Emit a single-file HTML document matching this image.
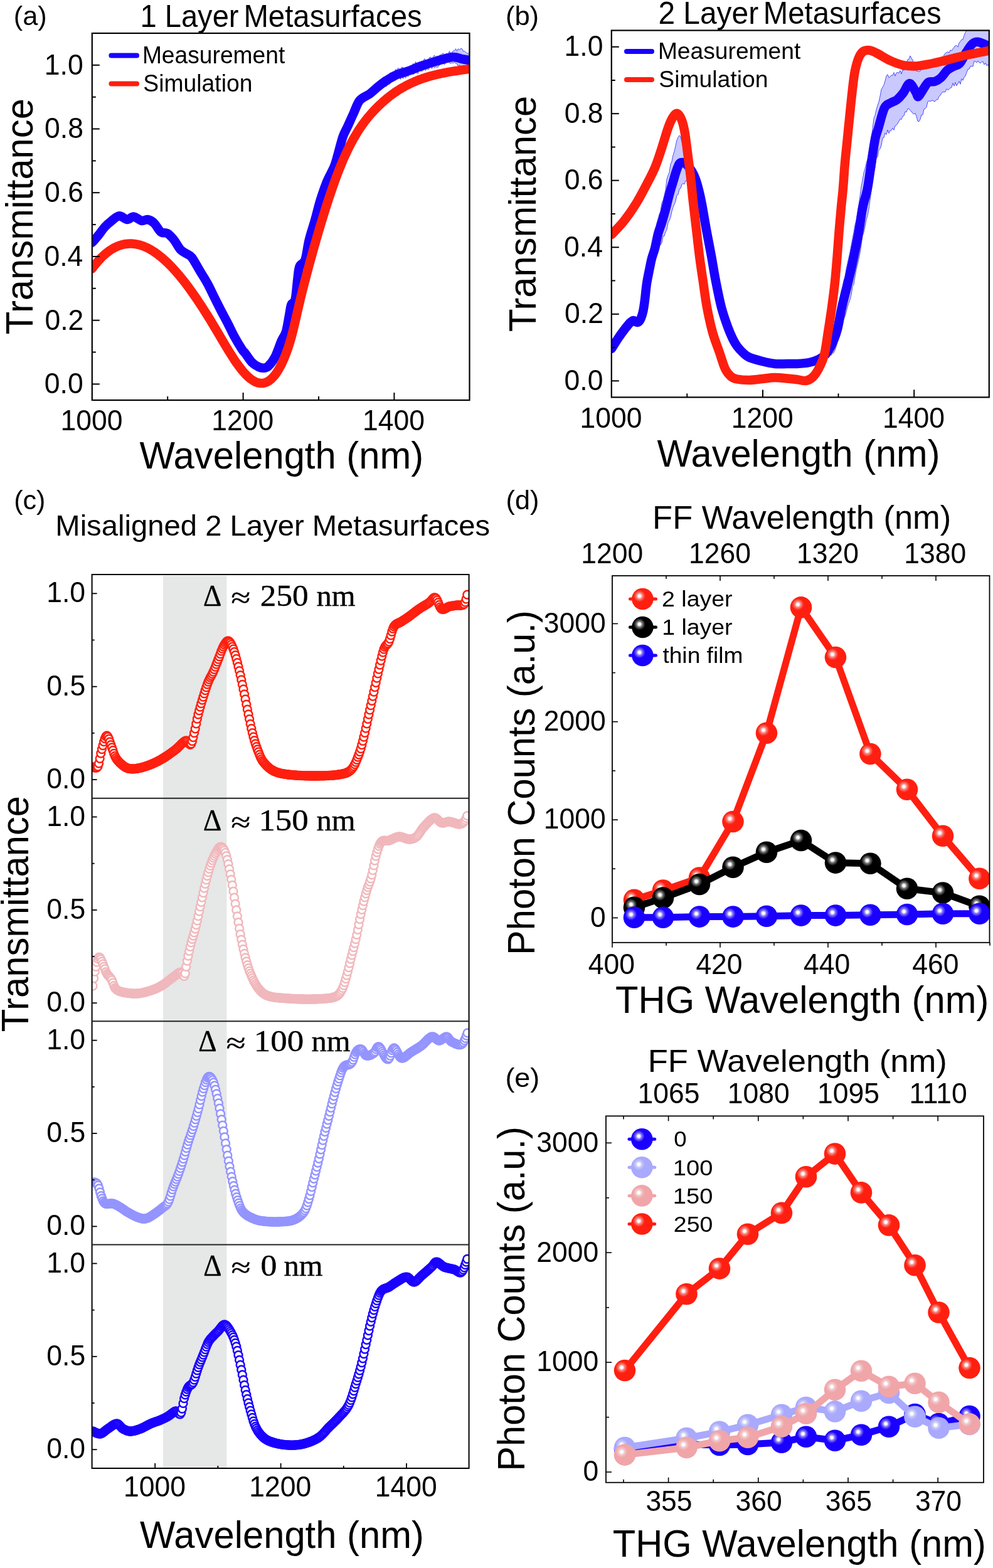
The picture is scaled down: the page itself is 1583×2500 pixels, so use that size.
<!DOCTYPE html><html><head><meta charset="utf-8"><title>Metasurface transmittance and THG</title><style>html,body{margin:0;padding:0;background:#fff}svg{display:block}</style></head><body><svg xmlns="http://www.w3.org/2000/svg" width="1583" height="2500" viewBox="0 0 1583 2500" font-family='"Liberation Sans", Arial, sans-serif'><rect width="1583" height="2500" fill="#fff"/><defs><radialGradient id="gR" cx="0.356" cy="0.362" r="0.27" fx="0.356" fy="0.362"><stop offset="0" stop-color="#fff"/><stop offset="0.2" stop-color="#fff"/><stop offset="0.5" stop-color="#f78780"/><stop offset="1" stop-color="#ff1f10"/></radialGradient><radialGradient id="gK" cx="0.356" cy="0.362" r="0.27" fx="0.356" fy="0.362"><stop offset="0" stop-color="#fff"/><stop offset="0.2" stop-color="#fff"/><stop offset="0.5" stop-color="#787878"/><stop offset="1" stop-color="#000000"/></radialGradient><radialGradient id="gB" cx="0.356" cy="0.362" r="0.27" fx="0.356" fy="0.362"><stop offset="0" stop-color="#fff"/><stop offset="0.2" stop-color="#fff"/><stop offset="0.5" stop-color="#8578f7"/><stop offset="1" stop-color="#1a00ff"/></radialGradient><radialGradient id="gL" cx="0.356" cy="0.362" r="0.27" fx="0.356" fy="0.362"><stop offset="0" stop-color="#fff"/><stop offset="0.2" stop-color="#fff"/><stop offset="0.5" stop-color="#ccccf6"/><stop offset="1" stop-color="#a9a9fd"/></radialGradient><radialGradient id="gP" cx="0.356" cy="0.362" r="0.27" fx="0.356" fy="0.362"><stop offset="0" stop-color="#fff"/><stop offset="0.2" stop-color="#fff"/><stop offset="0.5" stop-color="#f0cacc"/><stop offset="1" stop-color="#f0a5a9"/></radialGradient></defs>
<clipPath id="ca"><rect x="146.8" y="53.0" width="601.7" height="585.0"/></clipPath>
<g clip-path="url(#ca)">
<path d="M146.5,384.0 L148.5,381.8 L150.5,379.5 L152.5,377.3 L154.5,375.0 L156.5,372.6 L158.5,370.0 L160.5,367.3 L162.5,364.6 L164.5,362.0 L166.5,359.6 L168.5,357.4 L170.5,355.4 L172.5,353.6 L174.5,351.9 L176.5,350.3 L178.5,348.7 L180.5,347.0 L182.5,345.3 L184.5,343.8 L186.5,342.5 L188.5,341.6 L190.5,341.3 L192.5,341.7 L194.5,342.7 L196.5,343.9 L198.5,345.3 L200.5,346.4 L202.5,347.0 L204.5,346.7 L206.5,345.6 L208.5,344.2 L210.5,342.9 L212.5,342.4 L214.5,342.8 L216.5,343.7 L218.5,344.9 L220.5,346.3 L222.5,347.6 L224.5,348.6 L226.5,349.1 L228.5,348.9 L230.5,348.1 L232.5,347.3 L234.5,346.9 L236.5,347.3 L238.5,348.0 L240.5,348.9 L242.5,350.1 L244.5,351.6 L246.5,353.5 L248.5,356.2 L250.5,359.3 L252.5,362.4 L254.5,365.1 L256.5,367.0 L258.5,367.9 L260.5,368.2 L262.5,368.1 L264.5,368.2 L266.5,368.9 L268.5,370.2 L270.5,371.9 L272.5,373.8 L274.5,376.0 L276.5,378.4 L278.5,381.0 L280.5,384.2 L282.5,387.5 L284.5,390.7 L286.5,393.6 L288.5,395.8 L290.5,397.5 L292.5,398.8 L294.5,399.9 L296.5,401.0 L298.5,402.2 L300.5,403.3 L302.5,404.2 L304.5,405.9 L306.5,408.5 L308.5,411.5 L310.5,414.8 L312.5,418.3 L314.5,421.8 L316.5,425.3 L318.5,428.7 L320.5,432.0 L322.5,435.2 L324.5,438.5 L326.5,441.7 L328.5,445.1 L330.5,448.6 L332.5,452.3 L334.5,456.2 L336.5,460.4 L338.5,464.5 L340.5,468.7 L342.5,472.7 L344.5,476.7 L346.5,480.7 L348.5,484.7 L350.5,488.7 L352.5,492.6 L354.5,496.4 L356.5,500.1 L358.5,503.9 L360.5,507.6 L362.5,511.4 L364.5,515.4 L366.5,519.5 L368.5,523.6 L370.5,527.7 L372.5,531.5 L374.5,535.2 L376.5,538.7 L378.5,542.2 L380.5,545.5 L382.5,548.8 L384.5,552.0 L386.5,555.2 L388.5,557.7 L390.5,559.8 L392.5,562.5 L394.5,565.4 L396.5,568.3 L398.5,571.0 L400.5,573.5 L402.5,575.6 L404.5,577.3 L406.5,578.8 L408.5,580.0 L410.5,581.1 L412.5,582.1 L414.5,582.9 L416.5,583.5 L418.5,583.7 L420.5,583.7 L422.5,583.6 L424.5,583.1 L426.5,581.9 L428.5,580.1 L430.5,578.0 L432.5,575.6 L434.5,572.9 L436.5,569.7 L438.5,566.1 L440.5,561.7 L442.5,556.7 L444.5,551.3 L446.5,546.0 L448.5,541.0 L450.5,536.8 L452.5,533.5 L454.5,529.9 L456.5,524.0 L458.5,514.5 L460.5,502.9 L462.5,491.3 L464.5,482.5 L466.5,480.1 L468.5,478.7 L470.5,474.8 L472.5,460.8 L474.5,441.3 L476.5,425.4 L478.5,420.1 L480.5,418.2 L482.5,416.8 L484.5,414.9 L486.5,411.1 L488.5,402.9 L490.5,391.1 L492.5,380.8 L494.5,373.3 L496.5,366.6 L498.5,360.1 L500.5,353.6 L502.5,346.7 L504.5,339.2 L506.5,331.4 L508.5,323.9 L510.5,317.0 L512.5,310.6 L514.5,304.5 L516.5,298.7 L518.5,293.3 L520.5,288.2 L522.5,283.6 L524.5,279.5 L526.5,275.6 L528.5,271.6 L530.5,267.6 L532.5,263.2 L534.5,258.0 L536.5,251.4 L538.5,243.9 L540.5,236.6 L542.5,228.9 L544.5,221.4 L546.5,214.6 L548.5,209.3 L550.5,204.9 L552.5,200.9 L554.5,196.5 L556.5,191.8 L558.5,187.2 L560.5,182.6 L562.5,178.1 L564.5,173.6 L566.5,168.6 L568.5,163.6 L570.5,159.3 L572.5,156.0 L574.5,153.5 L576.5,151.7 L578.5,150.3 L580.5,149.1 L582.5,147.9 L584.5,146.8 L586.5,145.7 L588.5,144.5 L590.5,143.1 L592.5,141.4 L594.5,139.7 L596.5,137.8 L598.5,135.9 L600.5,131.4 L602.5,132.0 L604.5,129.9 L606.5,129.7 L608.5,125.3 L610.5,124.3 L612.5,126.3 L614.5,121.6 L616.5,121.1 L618.5,123.0 L620.5,117.7 L622.5,115.6 L624.5,117.8 L626.5,115.8 L628.5,115.0 L630.5,110.6 L632.5,111.9 L634.5,108.6 L636.5,109.4 L638.5,111.4 L640.5,106.9 L642.5,107.7 L644.5,111.2 L646.5,110.5 L648.5,106.9 L650.5,107.7 L652.5,106.4 L654.5,104.7 L656.5,106.2 L658.5,101.2 L660.5,104.2 L662.5,98.6 L664.5,102.7 L666.5,100.7 L668.5,98.6 L670.5,99.2 L672.5,97.2 L674.5,98.4 L676.5,93.7 L678.5,95.4 L680.5,96.9 L682.5,96.5 L684.5,91.6 L686.5,91.1 L688.5,94.4 L690.5,90.4 L692.5,88.0 L694.5,91.3 L696.5,88.9 L698.5,90.2 L700.5,88.0 L702.5,87.4 L704.5,86.2 L706.5,84.8 L708.5,87.7 L710.5,85.7 L712.5,85.8 L714.5,85.8 L716.5,81.4 L718.5,84.9 L720.5,84.1 L722.5,81.1 L724.5,80.9 L726.5,77.7 L728.5,81.3 L730.5,77.7 L732.5,79.8 L734.5,77.4 L736.5,77.7 L738.5,81.6 L740.5,81.5 L742.5,83.3 L744.5,84.6 L746.5,86.4 L748.5,81.6 L748.5,106.7 L746.5,106.6 L744.5,106.4 L742.5,106.4 L740.5,105.2 L738.5,107.9 L736.5,109.0 L734.5,108.0 L732.5,103.1 L730.5,106.1 L728.5,101.7 L726.5,101.4 L724.5,99.0 L722.5,100.8 L720.5,99.9 L718.5,101.4 L716.5,100.0 L714.5,99.4 L712.5,99.4 L710.5,99.2 L708.5,103.1 L706.5,99.7 L704.5,101.8 L702.5,101.5 L700.5,103.6 L698.5,106.5 L696.5,107.5 L694.5,106.4 L692.5,108.2 L690.5,104.4 L688.5,109.5 L686.5,105.9 L684.5,108.5 L682.5,111.3 L680.5,108.3 L678.5,112.7 L676.5,109.7 L674.5,112.5 L672.5,113.4 L670.5,113.4 L668.5,111.2 L666.5,117.2 L664.5,116.3 L662.5,115.6 L660.5,117.6 L658.5,118.7 L656.5,116.8 L654.5,118.7 L652.5,116.8 L650.5,122.2 L648.5,120.2 L646.5,124.4 L644.5,119.8 L642.5,125.5 L640.5,121.5 L638.5,126.5 L636.5,122.2 L634.5,124.9 L632.5,126.8 L630.5,127.8 L628.5,128.8 L626.5,128.1 L624.5,128.2 L622.5,132.2 L620.5,134.8 L618.5,134.6 L616.5,137.2 L614.5,138.1 L612.5,136.3 L610.5,137.0 L608.5,138.6 L606.5,141.2 L604.5,145.0 L602.5,144.4 L600.5,143.2 L598.5,147.9 L596.5,149.6 L594.5,151.4 L592.5,153.0 L590.5,154.6 L588.5,155.9 L586.5,157.1 L584.5,158.1 L582.5,159.1 L580.5,160.1 L578.5,161.2 L576.5,162.6 L574.5,164.3 L572.5,166.6 L570.5,169.9 L568.5,174.0 L566.5,178.9 L564.5,183.8 L562.5,188.2 L560.5,192.6 L558.5,196.9 L556.5,201.1 L554.5,205.4 L552.5,209.4 L550.5,213.0 L548.5,217.0 L546.5,221.9 L544.5,228.3 L542.5,235.4 L540.5,242.7 L538.5,249.9 L536.5,257.4 L534.5,264.0 L532.5,269.2 L530.5,273.6 L528.5,277.6 L526.5,281.6 L524.5,285.5 L522.5,289.6 L520.5,294.2 L518.5,299.3 L516.5,304.7 L514.5,310.5 L512.5,316.6 L510.5,323.0 L508.5,329.9 L506.5,337.4 L504.5,345.2 L502.5,352.7 L500.5,359.6 L498.5,366.1 L496.5,372.6 L494.5,379.3 L492.5,386.8 L490.5,397.1 L488.5,408.9 L486.5,417.1 L484.5,420.9 L482.5,422.8 L480.5,424.2 L478.5,426.1 L476.5,431.4 L474.5,447.3 L472.5,466.8 L470.5,480.8 L468.5,484.7 L466.5,486.1 L464.5,488.5 L462.5,497.3 L460.5,508.9 L458.5,520.5 L456.5,530.0 L454.5,535.9 L452.5,539.5 L450.5,542.8 L448.5,547.0 L446.5,552.0 L444.5,557.3 L442.5,562.7 L440.5,567.7 L438.5,572.1 L436.5,575.7 L434.5,578.9 L432.5,581.6 L430.5,584.0 L428.5,586.1 L426.5,587.9 L424.5,589.1 L422.5,589.6 L420.5,589.7 L418.5,589.7 L416.5,589.5 L414.5,588.9 L412.5,588.1 L410.5,587.1 L408.5,586.0 L406.5,584.8 L404.5,583.3 L402.5,581.6 L400.5,579.5 L398.5,577.0 L396.5,574.3 L394.5,571.4 L392.5,568.5 L390.5,565.8 L388.5,563.7 L386.5,561.2 L384.5,558.0 L382.5,554.8 L380.5,551.5 L378.5,548.2 L376.5,544.7 L374.5,541.2 L372.5,537.5 L370.5,533.7 L368.5,529.6 L366.5,525.5 L364.5,521.4 L362.5,517.4 L360.5,513.6 L358.5,509.9 L356.5,506.1 L354.5,502.4 L352.5,498.6 L350.5,494.7 L348.5,490.7 L346.5,486.7 L344.5,482.7 L342.5,478.7 L340.5,474.7 L338.5,470.5 L336.5,466.4 L334.5,462.2 L332.5,458.3 L330.5,454.6 L328.5,451.1 L326.5,447.7 L324.5,444.5 L322.5,441.2 L320.5,438.0 L318.5,434.7 L316.5,431.3 L314.5,427.8 L312.5,424.3 L310.5,420.8 L308.5,417.5 L306.5,414.5 L304.5,411.9 L302.5,410.2 L300.5,409.3 L298.5,408.2 L296.5,407.0 L294.5,405.9 L292.5,404.8 L290.5,403.5 L288.5,401.8 L286.5,399.6 L284.5,396.7 L282.5,393.5 L280.5,390.2 L278.5,387.0 L276.5,384.4 L274.5,382.0 L272.5,379.8 L270.5,377.9 L268.5,376.2 L266.5,374.9 L264.5,374.2 L262.5,374.1 L260.5,374.2 L258.5,373.9 L256.5,373.0 L254.5,371.1 L252.5,368.4 L250.5,365.3 L248.5,362.2 L246.5,359.5 L244.5,357.6 L242.5,356.1 L240.5,354.9 L238.5,354.0 L236.5,353.3 L234.5,352.9 L232.5,353.3 L230.5,354.1 L228.5,354.9 L226.5,355.1 L224.5,354.6 L222.5,353.6 L220.5,352.3 L218.5,350.9 L216.5,349.7 L214.5,348.8 L212.5,348.4 L210.5,348.9 L208.5,350.2 L206.5,351.6 L204.5,352.7 L202.5,353.0 L200.5,352.4 L198.5,351.3 L196.5,349.9 L194.5,348.7 L192.5,347.7 L190.5,347.3 L188.5,347.6 L186.5,348.5 L184.5,349.8 L182.5,351.3 L180.5,353.0 L178.5,354.7 L176.5,356.3 L174.5,357.9 L172.5,359.6 L170.5,361.4 L168.5,363.4 L166.5,365.6 L164.5,368.0 L162.5,370.6 L160.5,373.3 L158.5,376.0 L156.5,378.6 L154.5,381.0 L152.5,383.3 L150.5,385.5 L148.5,387.8 L146.5,390.0Z" fill="#c9c9ff" stroke="#4a4aff" stroke-width="1"/>
<path d="M146.5,387C148.2,385.1 153.1,379.8 156.5,375.6C159.9,371.4 163.5,365.9 167,362C170.5,358.1 173.7,355.4 177.5,352.5C181.3,349.6 185.8,344.7 190,344.3C194.2,343.9 198.9,349.8 202.7,350C206.5,350.2 209.2,345.1 213,345.4C216.8,345.7 222,351.2 225.7,352C229.4,352.8 231.9,349.4 235.2,350C238.5,350.6 242.2,352.4 245.7,355.7C249.2,359 252.7,367.1 256.2,369.8C259.7,372.5 263.2,370 266.7,372C270.2,374 273.5,377.7 277,382C280.5,386.3 284.2,394.2 287.7,398C291.2,401.8 295.2,402.9 298.2,405C301.2,407.1 302.4,406.1 305.8,410.5C309.2,414.9 314.2,424.5 318.4,431.5C322.6,438.5 327.2,445.5 331,452.5C334.8,459.5 337.9,466.5 341.4,473.5C344.9,480.5 348.3,487.4 351.9,494.4C355.5,501.4 359.4,508.4 363,515.4C366.6,522.4 369.7,529.4 373.5,536.4C377.3,543.4 383.1,552.9 386,557.4C388.9,561.9 388.4,560 391,563.4C393.6,566.8 398,574 401.5,577.6C405,581.2 408.9,583.4 412,584.9C415.1,586.4 417.8,586.9 420.4,586.7C423,586.5 424.7,586.7 427.7,583.9C430.7,581.1 434.7,576.4 438.2,569.7C441.7,563 445.7,550.3 448.7,543.5C451.7,536.7 453.9,535.8 456,528.8C458.1,521.8 459.9,508.7 461.3,501.5C462.7,494.3 462.8,489.7 464.4,485.7C465.9,481.7 469,484 470.6,477.4C472.2,470.8 473.2,454.6 474.3,445.9C475.4,437.2 475.5,430.2 477.5,425C479.5,419.8 483.9,421.4 486.4,414.4C488.9,407.4 490.1,393.5 492.7,383C495.3,372.5 499,362 502,351.5C505,341 507.4,330.1 510.5,320C513.6,309.9 516.8,300.4 520.5,291.2C524.2,282 529.9,272.9 533,265C536.1,257.1 537,251.9 539.3,244C541.6,236.1 544.2,224.7 546.7,217.7C549.2,210.7 551.2,208.1 554,202C556.8,195.9 560.2,188 563.5,181C566.8,174 569.1,165.3 573.5,160C577.9,154.7 585.1,152.9 590,149.2C594.9,145.5 598.6,141.5 603,138C607.4,134.5 611.4,131.3 616.2,128.2C621,125.1 625.9,121.9 632,119.3C638.1,116.7 646.9,114.7 653,112.5C659.1,110.3 661.7,108.7 668.7,106.2C675.7,103.8 686.2,100.3 695,97.8C703.8,95.3 714.2,91.6 721.2,91C728.2,90.4 732.4,93.2 737,94.1C741.6,95 747,95.8 749,96.2" fill="none" stroke="#1a00ff" stroke-width="14.5" stroke-linejoin="round" stroke-linecap="round"/>
<path d="M146.5,428.6 L149.5,424.6 L152.5,420.9 L155.5,417.3 L158.5,414.0 L161.5,410.8 L164.5,407.9 L167.5,405.3 L170.5,402.8 L173.5,400.5 L176.5,398.4 L179.5,396.6 L182.5,394.9 L185.5,393.5 L188.5,392.2 L191.5,391.1 L194.5,390.2 L197.5,389.5 L200.5,389.0 L203.5,388.7 L206.5,388.5 L209.5,388.5 L212.5,388.7 L215.5,389.1 L218.5,389.6 L221.5,390.3 L224.5,391.1 L227.5,392.1 L230.5,393.3 L233.5,394.6 L236.5,396.1 L239.5,397.7 L242.5,399.5 L245.5,401.4 L248.5,403.4 L251.5,405.6 L254.5,407.9 L257.5,410.3 L260.5,412.9 L263.5,415.6 L266.5,418.4 L269.5,421.4 L272.5,424.4 L275.5,427.6 L278.5,430.9 L281.5,434.3 L284.5,437.7 L287.5,441.3 L290.5,445.0 L293.5,448.8 L296.5,452.7 L299.5,456.7 L302.5,460.8 L305.5,465.0 L308.5,469.2 L311.5,473.5 L314.5,477.9 L317.5,482.4 L320.5,487.0 L323.5,491.6 L326.5,496.3 L329.5,501.0 L332.5,505.9 L335.5,510.7 L338.5,515.7 L341.5,520.7 L344.5,525.7 L347.5,530.8 L350.5,535.9 L353.5,541.0 L356.5,546.0 L359.5,551.1 L362.5,556.1 L365.5,561.0 L368.5,565.7 L371.5,570.4 L374.5,574.9 L377.5,579.3 L380.5,583.4 L383.5,587.4 L386.5,591.1 L389.5,594.6 L392.5,597.8 L395.5,600.7 L398.5,603.3 L401.5,605.5 L404.5,607.4 L407.5,609.0 L410.5,610.1 L413.5,610.8 L416.5,611.1 L419.5,610.9 L422.5,610.2 L425.5,609.0 L428.5,607.4 L431.5,605.1 L434.5,602.3 L437.5,598.9 L440.5,594.9 L443.5,590.3 L446.5,585.0 L449.5,579.1 L452.5,572.5 L455.5,565.1 L458.5,557.0 L461.5,547.8 L464.5,537.4 L467.5,525.7 L470.5,513.1 L473.5,500.0 L476.5,486.9 L479.5,474.2 L482.5,462.1 L485.5,450.3 L488.5,438.8 L491.5,427.5 L494.5,416.4 L497.5,405.5 L500.5,394.8 L503.5,384.2 L506.5,373.8 L509.5,363.6 L512.5,353.6 L515.5,343.8 L518.5,334.2 L521.5,324.7 L524.5,315.5 L527.5,306.6 L530.5,297.9 L533.5,289.4 L536.5,281.2 L539.5,273.3 L542.5,265.8 L545.5,258.5 L548.5,251.5 L551.5,244.9 L554.5,238.6 L557.5,232.5 L560.5,226.8 L563.5,221.3 L566.5,216.2 L569.5,211.2 L572.5,206.5 L575.5,202.0 L578.5,197.8 L581.5,193.7 L584.5,189.8 L587.5,186.1 L590.5,182.6 L593.5,179.2 L596.5,176.0 L599.5,172.9 L602.5,169.9 L605.5,167.0 L608.5,164.2 L611.5,161.5 L614.5,158.9 L617.5,156.4 L620.5,154.1 L623.5,151.8 L626.5,149.6 L629.5,147.4 L632.5,145.4 L635.5,143.5 L638.5,141.6 L641.5,139.9 L644.5,138.2 L647.5,136.5 L650.5,135.0 L653.5,133.5 L656.5,132.1 L659.5,130.8 L662.5,129.5 L665.5,128.3 L668.5,127.1 L671.5,126.0 L674.5,124.9 L677.5,124.0 L680.5,123.0 L683.5,122.1 L686.5,121.3 L689.5,120.5 L692.5,119.7 L695.5,119.0 L698.5,118.3 L701.5,117.6 L704.5,117.0 L707.5,116.4 L710.5,115.8 L713.5,115.2 L716.5,114.7 L719.5,114.2 L722.5,113.7 L725.5,113.2 L728.5,112.8 L731.5,112.3 L734.5,111.9 L737.5,111.4 L740.5,111.0 L743.5,110.6 L746.5,110.1 L749.0,109.7" fill="none" stroke="#ff1f0f" stroke-width="14.5" stroke-linejoin="round" stroke-linecap="round"/>
</g>
<rect x="146.8" y="53" width="601.7" height="585" fill="none" stroke="#000" stroke-width="2.2"/>
<line x1="146.8" y1="612.4" x2="158.8" y2="612.4" stroke="#000" stroke-width="2"/>
<line x1="146.8" y1="561.5" x2="152.8" y2="561.5" stroke="#000" stroke-width="2"/>
<line x1="146.8" y1="510.7" x2="158.8" y2="510.7" stroke="#000" stroke-width="2"/>
<line x1="146.8" y1="459.8" x2="152.8" y2="459.8" stroke="#000" stroke-width="2"/>
<line x1="146.8" y1="409" x2="158.8" y2="409" stroke="#000" stroke-width="2"/>
<line x1="146.8" y1="358.1" x2="152.8" y2="358.1" stroke="#000" stroke-width="2"/>
<line x1="146.8" y1="307.2" x2="158.8" y2="307.2" stroke="#000" stroke-width="2"/>
<line x1="146.8" y1="256.4" x2="152.8" y2="256.4" stroke="#000" stroke-width="2"/>
<line x1="146.8" y1="205.5" x2="158.8" y2="205.5" stroke="#000" stroke-width="2"/>
<line x1="146.8" y1="154.7" x2="152.8" y2="154.7" stroke="#000" stroke-width="2"/>
<line x1="146.8" y1="103.8" x2="158.8" y2="103.8" stroke="#000" stroke-width="2"/>
<line x1="267.2" y1="638" x2="267.2" y2="632" stroke="#000" stroke-width="2"/>
<line x1="387.6" y1="638" x2="387.6" y2="626" stroke="#000" stroke-width="2"/>
<line x1="508" y1="638" x2="508" y2="632" stroke="#000" stroke-width="2"/>
<line x1="628.4" y1="638" x2="628.4" y2="626" stroke="#000" stroke-width="2"/>
<text x="70.8" y="627.2" font-size="45.5" textLength="61.9" lengthAdjust="spacingAndGlyphs" font-family='"Liberation Sans", Arial, sans-serif' fill="#000">0.0</text>
<text x="71.4" y="525.5" font-size="45.5" textLength="61.9" lengthAdjust="spacingAndGlyphs" font-family='"Liberation Sans", Arial, sans-serif' fill="#000">0.2</text>
<text x="70.4" y="423.8" font-size="45.5" textLength="61.9" lengthAdjust="spacingAndGlyphs" font-family='"Liberation Sans", Arial, sans-serif' fill="#000">0.4</text>
<text x="71.0" y="322.0" font-size="45.5" textLength="61.9" lengthAdjust="spacingAndGlyphs" font-family='"Liberation Sans", Arial, sans-serif' fill="#000">0.6</text>
<text x="71.0" y="220.3" font-size="45.5" textLength="61.9" lengthAdjust="spacingAndGlyphs" font-family='"Liberation Sans", Arial, sans-serif' fill="#000">0.8</text>
<text x="70.8" y="118.6" font-size="45.5" textLength="61.9" lengthAdjust="spacingAndGlyphs" font-family='"Liberation Sans", Arial, sans-serif' fill="#000">1.0</text>
<text x="96.5" y="686.2" font-size="45.5" textLength="99.0" lengthAdjust="spacingAndGlyphs" font-family='"Liberation Sans", Arial, sans-serif' fill="#000">1000</text>
<text x="337.3" y="686.2" font-size="45.5" textLength="99.0" lengthAdjust="spacingAndGlyphs" font-family='"Liberation Sans", Arial, sans-serif' fill="#000">1200</text>
<text x="578.1" y="686.2" font-size="45.5" textLength="99.0" lengthAdjust="spacingAndGlyphs" font-family='"Liberation Sans", Arial, sans-serif' fill="#000">1400</text>
<text x="222.4" y="747.2" font-size="61.5" textLength="452.7" lengthAdjust="spacingAndGlyphs" font-family='"Liberation Sans", Arial, sans-serif' fill="#000">Wavelength (nm)</text>
<text transform="translate(51.5,533.3) rotate(-90)" x="0" y="0" font-size="62.0" textLength="376.2" lengthAdjust="spacingAndGlyphs" font-family='"Liberation Sans", Arial, sans-serif'>Transmittance</text>
<text x="21.7" y="40.0" font-size="42.5" textLength="53.0" lengthAdjust="spacingAndGlyphs" font-family='"Liberation Sans", Arial, sans-serif' fill="#000">(a)</text>
<text x="223.5" y="42.5" font-size="49.2" textLength="157.0" lengthAdjust="spacingAndGlyphs" font-family='"Liberation Sans", Arial, sans-serif' fill="#000">1 Layer</text>
<text x="388.4" y="42.5" font-size="49.2" textLength="284.3" lengthAdjust="spacingAndGlyphs" font-family='"Liberation Sans", Arial, sans-serif' fill="#000">Metasurfaces</text>
<line x1="177.4" y1="88.4" x2="218" y2="88.4" stroke="#1a00ff" stroke-width="8" stroke-linecap="round"/>
<line x1="177.4" y1="133.6" x2="218" y2="133.6" stroke="#ff1f0f" stroke-width="8" stroke-linecap="round"/>
<text x="226.9" y="100.8" font-size="38.0" textLength="227.4" lengthAdjust="spacingAndGlyphs" font-family='"Liberation Sans", Arial, sans-serif' fill="#000">Measurement</text>
<text x="228.3" y="146.0" font-size="38.0" textLength="174.1" lengthAdjust="spacingAndGlyphs" font-family='"Liberation Sans", Arial, sans-serif' fill="#000">Simulation</text>
<clipPath id="cb"><rect x="974.75" y="48.5" width="602.05" height="584.9"/></clipPath>
<g clip-path="url(#cb)">
<path d="M975.0,553.0 L977.0,549.7 L979.0,546.5 L981.0,543.3 L983.0,540.1 L985.0,537.0 L987.0,534.0 L989.0,531.2 L991.0,528.4 L993.0,525.6 L995.0,523.0 L997.0,520.4 L999.0,517.9 L1001.0,515.5 L1003.0,513.2 L1005.0,511.0 L1007.0,509.1 L1009.0,508.1 L1011.0,508.3 L1013.0,509.9 L1015.0,511.0 L1017.0,510.8 L1019.0,509.4 L1021.0,506.1 L1023.0,500.9 L1025.0,494.0 L1027.0,482.6 L1029.0,465.1 L1031.0,446.0 L1033.0,430.3 L1035.0,417.1 L1037.0,406.5 L1039.0,399.6 L1041.0,391.9 L1043.0,377.8 L1045.0,372.3 L1047.0,355.8 L1049.0,349.1 L1051.0,341.8 L1053.0,337.2 L1055.0,323.7 L1057.0,319.6 L1059.0,311.4 L1061.0,302.8 L1063.0,285.9 L1065.0,279.8 L1067.0,275.0 L1069.0,261.8 L1071.0,257.3 L1073.0,247.6 L1075.0,241.2 L1077.0,232.5 L1079.0,223.4 L1081.0,219.0 L1083.0,215.9 L1085.0,218.0 L1087.0,226.3 L1089.0,226.9 L1091.0,232.2 L1093.0,234.7 L1095.0,240.1 L1097.0,246.7 L1099.0,253.2 L1101.0,258.4 L1103.0,262.9 L1105.0,262.8 L1107.0,271.5 L1109.0,276.2 L1111.0,287.2 L1113.0,294.7 L1115.0,303.1 L1117.0,312.4 L1119.0,322.8 L1121.0,334.1 L1123.0,345.9 L1125.0,357.4 L1127.0,368.4 L1129.0,378.8 L1131.0,389.2 L1133.0,399.6 L1135.0,410.6 L1137.0,422.4 L1139.0,434.2 L1141.0,445.0 L1143.0,455.2 L1145.0,465.1 L1147.0,474.4 L1149.0,483.0 L1151.0,490.7 L1153.0,497.5 L1155.0,503.7 L1157.0,509.6 L1159.0,515.2 L1161.0,520.7 L1163.0,525.8 L1165.0,530.6 L1167.0,534.9 L1169.0,539.0 L1171.0,542.8 L1173.0,546.1 L1175.0,549.0 L1177.0,551.6 L1179.0,553.9 L1181.0,556.1 L1183.0,558.1 L1185.0,560.0 L1187.0,561.8 L1189.0,563.5 L1191.0,564.9 L1193.0,566.1 L1195.0,567.0 L1197.0,567.8 L1199.0,568.5 L1201.0,569.2 L1203.0,569.8 L1205.0,570.4 L1207.0,570.9 L1209.0,571.5 L1211.0,572.0 L1213.0,572.5 L1215.0,573.0 L1217.0,573.5 L1219.0,574.0 L1221.0,574.5 L1223.0,574.9 L1225.0,575.4 L1227.0,575.8 L1229.0,576.2 L1231.0,576.5 L1233.0,576.8 L1235.0,577.0 L1237.0,577.2 L1239.0,577.3 L1241.0,577.3 L1243.0,577.3 L1245.0,577.3 L1247.0,577.2 L1249.0,577.1 L1251.0,577.1 L1253.0,577.0 L1255.0,577.0 L1257.0,577.0 L1259.0,577.0 L1261.0,577.1 L1263.0,577.1 L1265.0,577.1 L1267.0,577.1 L1269.0,577.1 L1271.0,576.9 L1273.0,576.8 L1275.0,576.7 L1277.0,576.6 L1279.0,576.4 L1281.0,576.2 L1283.0,576.0 L1285.0,575.8 L1287.0,575.5 L1289.0,575.2 L1291.0,574.8 L1293.0,574.3 L1295.0,573.8 L1297.0,573.2 L1299.0,572.5 L1301.0,571.5 L1303.0,570.0 L1305.0,568.5 L1307.0,566.9 L1309.0,565.1 L1311.0,563.9 L1313.0,562.9 L1315.0,560.5 L1317.0,559.8 L1319.0,550.5 L1321.0,548.0 L1323.0,542.9 L1325.0,536.5 L1327.0,530.7 L1329.0,524.8 L1331.0,518.5 L1333.0,508.7 L1335.0,498.8 L1337.0,489.1 L1339.0,475.0 L1341.0,464.6 L1343.0,457.3 L1345.0,447.4 L1347.0,441.6 L1349.0,429.2 L1351.0,419.9 L1353.0,411.1 L1355.0,402.0 L1357.0,391.1 L1359.0,380.6 L1361.0,370.6 L1363.0,358.6 L1365.0,351.8 L1367.0,339.8 L1369.0,326.2 L1371.0,312.7 L1373.0,297.0 L1375.0,287.0 L1377.0,275.3 L1379.0,268.7 L1381.0,260.5 L1383.0,254.0 L1385.0,243.2 L1387.0,231.5 L1389.0,219.5 L1391.0,205.4 L1393.0,189.0 L1395.0,183.9 L1397.0,175.0 L1399.0,167.9 L1401.0,162.4 L1403.0,153.3 L1405.0,142.7 L1407.0,139.1 L1409.0,135.5 L1411.0,129.0 L1413.0,121.2 L1415.0,118.7 L1417.0,123.7 L1419.0,122.1 L1421.0,119.9 L1423.0,120.2 L1425.0,115.6 L1427.0,121.2 L1429.0,116.2 L1431.0,115.4 L1433.0,116.7 L1435.0,112.4 L1437.0,117.9 L1439.0,111.0 L1441.0,112.5 L1443.0,105.8 L1445.0,101.6 L1447.0,95.0 L1449.0,93.9 L1451.0,88.9 L1453.0,92.8 L1455.0,95.7 L1457.0,103.7 L1459.0,105.1 L1461.0,113.5 L1463.0,113.2 L1465.0,114.1 L1467.0,113.3 L1469.0,107.8 L1471.0,105.4 L1473.0,107.8 L1475.0,101.2 L1477.0,97.3 L1479.0,100.4 L1481.0,97.4 L1483.0,98.1 L1485.0,100.8 L1487.0,100.2 L1489.0,97.1 L1491.0,95.0 L1493.0,99.1 L1495.0,99.8 L1497.0,99.9 L1499.0,94.1 L1501.0,96.0 L1503.0,95.9 L1505.0,87.6 L1507.0,85.0 L1509.0,83.5 L1511.0,82.6 L1513.0,84.3 L1515.0,79.8 L1517.0,80.9 L1519.0,77.9 L1521.0,75.2 L1523.0,72.9 L1525.0,72.5 L1527.0,74.9 L1529.0,68.5 L1531.0,65.8 L1533.0,63.1 L1535.0,62.9 L1537.0,56.5 L1539.0,51.4 L1541.0,49.0 L1543.0,43.6 L1545.0,43.1 L1547.0,43.1 L1549.0,37.6 L1551.0,35.7 L1553.0,30.8 L1555.0,31.8 L1557.0,29.7 L1559.0,29.4 L1561.0,36.3 L1563.0,36.2 L1565.0,38.4 L1567.0,34.1 L1569.0,37.3 L1571.0,43.1 L1573.0,40.7 L1575.0,46.0 L1577.0,47.7 L1577.0,107.2 L1575.0,102.9 L1573.0,104.7 L1571.0,100.5 L1569.0,103.2 L1567.0,98.1 L1565.0,98.8 L1563.0,100.5 L1561.0,99.8 L1559.0,97.0 L1557.0,99.9 L1555.0,97.9 L1553.0,97.6 L1551.0,105.9 L1549.0,105.7 L1547.0,105.7 L1545.0,110.2 L1543.0,110.3 L1541.0,115.5 L1539.0,120.9 L1537.0,123.2 L1535.0,128.2 L1533.0,125.5 L1531.0,134.3 L1529.0,129.6 L1527.0,133.4 L1525.0,136.7 L1523.0,131.4 L1521.0,137.2 L1519.0,132.5 L1517.0,139.5 L1515.0,140.2 L1513.0,142.5 L1511.0,143.3 L1509.0,141.7 L1507.0,146.7 L1505.0,146.4 L1503.0,146.7 L1501.0,148.2 L1499.0,152.1 L1497.0,153.8 L1495.0,158.8 L1493.0,158.7 L1491.0,161.4 L1489.0,162.0 L1487.0,159.7 L1485.0,160.4 L1483.0,161.8 L1481.0,160.8 L1479.0,162.0 L1477.0,170.8 L1475.0,173.2 L1473.0,173.9 L1471.0,182.8 L1469.0,183.1 L1467.0,190.2 L1465.0,193.8 L1463.0,193.2 L1461.0,185.7 L1459.0,180.5 L1457.0,181.9 L1455.0,180.7 L1453.0,178.0 L1451.0,176.1 L1449.0,173.2 L1447.0,173.4 L1445.0,178.8 L1443.0,177.8 L1441.0,184.6 L1439.0,185.5 L1437.0,190.4 L1435.0,189.7 L1433.0,193.3 L1431.0,197.0 L1429.0,199.6 L1427.0,200.6 L1425.0,207.4 L1423.0,204.1 L1421.0,207.8 L1419.0,208.0 L1417.0,212.5 L1415.0,207.0 L1413.0,214.6 L1411.0,211.9 L1409.0,219.6 L1407.0,219.8 L1405.0,231.8 L1403.0,237.2 L1401.0,239.4 L1399.0,250.1 L1397.0,252.4 L1395.0,267.1 L1393.0,276.7 L1391.0,284.9 L1389.0,304.2 L1387.0,319.3 L1385.0,333.5 L1383.0,343.7 L1381.0,350.3 L1379.0,361.1 L1377.0,370.1 L1375.0,376.2 L1373.0,390.1 L1371.0,403.3 L1369.0,412.9 L1367.0,421.7 L1365.0,429.7 L1363.0,441.0 L1361.0,453.5 L1359.0,456.7 L1357.0,470.1 L1355.0,477.7 L1353.0,483.4 L1351.0,489.0 L1349.0,497.4 L1347.0,504.3 L1345.0,508.8 L1343.0,518.2 L1341.0,519.9 L1339.0,528.1 L1337.0,540.3 L1335.0,545.2 L1333.0,552.5 L1331.0,558.3 L1329.0,562.4 L1327.0,563.2 L1325.0,566.5 L1323.0,566.4 L1321.0,570.7 L1319.0,566.2 L1317.0,570.9 L1315.0,571.4 L1313.0,571.7 L1311.0,577.7 L1309.0,576.5 L1307.0,577.1 L1305.0,577.5 L1303.0,577.8 L1301.0,578.1 L1299.0,578.5 L1297.0,579.2 L1295.0,579.8 L1293.0,580.3 L1291.0,580.8 L1289.0,581.2 L1287.0,581.5 L1285.0,581.8 L1283.0,582.0 L1281.0,582.2 L1279.0,582.4 L1277.0,582.6 L1275.0,582.7 L1273.0,582.8 L1271.0,582.9 L1269.0,583.1 L1267.0,583.1 L1265.0,583.1 L1263.0,583.1 L1261.0,583.1 L1259.0,583.0 L1257.0,583.0 L1255.0,583.0 L1253.0,583.0 L1251.0,583.1 L1249.0,583.1 L1247.0,583.2 L1245.0,583.3 L1243.0,583.3 L1241.0,583.3 L1239.0,583.3 L1237.0,583.2 L1235.0,583.0 L1233.0,582.8 L1231.0,582.5 L1229.0,582.2 L1227.0,581.8 L1225.0,581.4 L1223.0,580.9 L1221.0,580.5 L1219.0,580.0 L1217.0,579.5 L1215.0,579.0 L1213.0,578.5 L1211.0,578.0 L1209.0,577.5 L1207.0,576.9 L1205.0,576.4 L1203.0,575.8 L1201.0,575.2 L1199.0,574.5 L1197.0,573.8 L1195.0,573.0 L1193.0,572.1 L1191.0,570.9 L1189.0,569.5 L1187.0,567.8 L1185.0,566.0 L1183.0,564.1 L1181.0,562.1 L1179.0,559.9 L1177.0,557.6 L1175.0,555.0 L1173.0,552.1 L1171.0,548.8 L1169.0,545.0 L1167.0,540.9 L1165.0,536.6 L1163.0,531.8 L1161.0,526.7 L1159.0,521.2 L1157.0,515.6 L1155.0,509.7 L1153.0,503.5 L1151.0,496.7 L1149.0,489.0 L1147.0,480.4 L1145.0,471.1 L1143.0,461.2 L1141.0,451.0 L1139.0,440.2 L1137.0,428.4 L1135.0,416.6 L1133.0,405.6 L1131.0,395.2 L1129.0,384.8 L1127.0,374.4 L1125.0,363.4 L1123.0,351.9 L1121.0,340.1 L1119.0,329.2 L1117.0,319.6 L1115.0,311.1 L1113.0,303.5 L1111.0,296.8 L1109.0,289.5 L1107.0,287.6 L1105.0,286.7 L1103.0,285.9 L1101.0,281.4 L1099.0,284.7 L1097.0,284.6 L1095.0,288.0 L1093.0,288.4 L1091.0,293.5 L1089.0,292.7 L1087.0,293.7 L1085.0,300.4 L1083.0,301.4 L1081.0,310.2 L1079.0,311.2 L1077.0,320.8 L1075.0,325.9 L1073.0,330.6 L1071.0,337.1 L1069.0,346.2 L1067.0,351.6 L1065.0,355.1 L1063.0,366.2 L1061.0,369.8 L1059.0,376.2 L1057.0,376.9 L1055.0,386.8 L1053.0,390.5 L1051.0,390.2 L1049.0,400.1 L1047.0,402.8 L1045.0,408.5 L1043.0,417.5 L1041.0,421.4 L1039.0,428.5 L1037.0,435.0 L1035.0,442.1 L1033.0,450.6 L1031.0,458.0 L1029.0,473.1 L1027.0,488.6 L1025.0,500.0 L1023.0,506.9 L1021.0,512.1 L1019.0,515.4 L1017.0,516.8 L1015.0,517.0 L1013.0,515.9 L1011.0,514.3 L1009.0,514.1 L1007.0,515.1 L1005.0,517.0 L1003.0,519.2 L1001.0,521.5 L999.0,523.9 L997.0,526.4 L995.0,529.0 L993.0,531.6 L991.0,534.4 L989.0,537.2 L987.0,540.0 L985.0,543.0 L983.0,546.1 L981.0,549.3 L979.0,552.5 L977.0,555.7 L975.0,559.0Z" fill="#c9c9ff" stroke="#4a4aff" stroke-width="1"/>
<path d="M975,556C976.7,553.3 981.7,545 985,540C988.3,535 991.7,530.3 995,526C998.3,521.7 1002.5,516.5 1005,514C1007.5,511.5 1008.3,511 1010,511C1011.7,511 1013.3,514 1015,514C1016.7,514 1018.3,513.8 1020,511C1021.7,508.2 1023.7,502.5 1025,497C1026.3,491.5 1027,485.5 1028,478C1029,470.5 1029.7,460.7 1031,452C1032.3,443.3 1034.7,432.7 1036,426C1037.3,419.3 1037.7,417 1039,412C1040.3,407 1042.3,402.5 1044,396C1045.7,389.5 1047.2,379.8 1049,373C1050.8,366.2 1053,361.5 1055,355C1057,348.5 1059.3,340.2 1061,334C1062.7,327.8 1063.7,323.2 1065,318C1066.3,312.8 1067.7,307.7 1069,303C1070.3,298.3 1071.5,295 1073,290C1074.5,285 1076.3,277.8 1078,273C1079.7,268.2 1081.3,263.3 1083,261C1084.7,258.7 1086,258.7 1088,259C1090,259.3 1092.5,260.7 1095,263C1097.5,265.3 1100.7,269.2 1103,273C1105.3,276.8 1107.2,281 1109,286C1110.8,291 1112.3,296.3 1114,303C1115.7,309.7 1117,315.5 1119,326C1121,336.5 1123.5,352.3 1126,366C1128.5,379.7 1131.5,394.3 1134,408C1136.5,421.7 1138.3,434.3 1141,448C1143.7,461.7 1146.8,477.8 1150,490C1153.2,502.2 1157,512.7 1160,521C1163,529.3 1165.5,534.8 1168,540C1170.5,545.2 1172.2,548.2 1175,552C1177.8,555.8 1181.7,560 1185,563C1188.3,566 1190,567.8 1195,570C1200,572.2 1208.3,574.3 1215,576C1221.7,577.7 1228.3,579.3 1235,580C1241.7,580.7 1249.2,580 1255,580C1260.8,580 1264.2,580.3 1270,580C1275.8,579.7 1284.2,579.2 1290,578C1295.8,576.8 1300.8,575 1305,573C1309.2,571 1312.2,568.7 1315,566C1317.8,563.3 1319.8,560.5 1322,557C1324.2,553.5 1325.8,550.3 1328,545C1330.2,539.7 1332.7,534.2 1335,525C1337.3,515.8 1339.2,502.5 1342,490C1344.8,477.5 1348.8,463.3 1352,450C1355.2,436.7 1358.2,423.3 1361,410C1363.8,396.7 1366.7,383 1369,370C1371.3,357 1372.7,343.7 1375,332C1377.3,320.3 1380.7,312 1383,300C1385.3,288 1387,273 1389,260C1391,247 1393.2,231.2 1395,222C1396.8,212.8 1397.5,213.3 1400,205C1402.5,196.7 1406.7,178.8 1410,172C1413.3,165.2 1416.7,166.2 1420,164C1423.3,161.8 1426.7,161.7 1430,159C1433.3,156.3 1436.7,152.3 1440,148C1443.3,143.7 1446.7,133.2 1450,133C1453.3,132.8 1457.7,143.5 1460,147C1462.3,150.5 1462,154.8 1464,154C1466,153.2 1469.3,145.8 1472,142C1474.7,138.2 1477,133 1480,131C1483,129 1486.7,131.2 1490,130C1493.3,128.8 1496.7,127 1500,124C1503.3,121 1506.7,115 1510,112C1513.3,109 1516.7,107.8 1520,106C1523.3,104.2 1526.7,104.7 1530,101C1533.3,97.3 1536.7,89.2 1540,84C1543.3,78.8 1546.7,72.8 1550,70C1553.3,67.2 1555.5,66.3 1560,67C1564.5,67.7 1574.2,72.8 1577,74" fill="none" stroke="#1a00ff" stroke-width="14.5" stroke-linejoin="round" stroke-linecap="round"/>
<path d="M975,374C978.3,370.3 988.3,360.5 995,352C1001.7,343.5 1008.3,334 1015,323C1021.7,312 1030,295.7 1035,286C1040,276.3 1041.7,273.3 1045,265C1048.3,256.7 1051.7,246.2 1055,236C1058.3,225.8 1062.2,212 1065,204C1067.8,196 1069.8,191.8 1072,188C1074.2,184.2 1076.2,181.7 1078,181C1079.8,180.3 1081.3,181.7 1083,184C1084.7,186.3 1086.5,190.2 1088,195C1089.5,199.8 1090.7,205 1092,213C1093.3,221 1094.5,231.3 1096,243C1097.5,254.7 1099.5,269.8 1101,283C1102.5,296.2 1103.5,308.3 1105,322C1106.5,335.7 1108.3,350.7 1110,365C1111.7,379.3 1113.2,393.8 1115,408C1116.8,422.2 1119,436.3 1121,450C1123,463.7 1124.5,476.7 1127,490C1129.5,503.3 1132.7,518 1136,530C1139.3,542 1143.7,552.3 1147,562C1150.3,571.7 1153,581.7 1156,588C1159,594.3 1161.8,597.2 1165,600C1168.2,602.8 1170,603.5 1175,604.5C1180,605.5 1188.3,606.1 1195,606C1201.7,605.9 1208.3,604.7 1215,604C1221.7,603.3 1228.3,602.1 1235,602C1241.7,601.9 1249.2,603 1255,603.5C1260.8,604 1265,604.4 1270,605C1275,605.6 1280.7,607.7 1285,607C1289.3,606.3 1292.7,604.2 1296,601C1299.3,597.8 1302,593.8 1305,588C1308,582.2 1311.5,575.7 1314,566C1316.5,556.3 1318,542.7 1320,530C1322,517.3 1324.2,503.3 1326,490C1327.8,476.7 1329.6,463.3 1331,450C1332.4,436.7 1333.4,423.3 1334.5,410C1335.6,396.7 1336.4,383.3 1337.5,370C1338.6,356.7 1339.9,341.7 1341,330C1342.1,318.3 1343,311.7 1344,300C1345,288.3 1345.8,273.3 1347,260C1348.2,246.7 1349.7,233.3 1351,220C1352.3,206.7 1353.7,193 1355,180C1356.3,167 1357.7,153.2 1359,142C1360.3,130.8 1361.3,121.3 1363,113C1364.7,104.7 1366.8,97.2 1369,92C1371.2,86.8 1373.5,84 1376,82C1378.5,80 1381.3,80 1384,80C1386.7,80 1389.3,81 1392,82C1394.7,83 1395.3,83.5 1400,86C1404.7,88.5 1413.3,94 1420,97C1426.7,100 1433.3,102.6 1440,104C1446.7,105.4 1453.3,105.7 1460,105.4C1466.7,105.1 1473.3,103.6 1480,102.4C1486.7,101.2 1493.3,99.6 1500,98C1506.7,96.4 1513.3,94.7 1520,93C1526.7,91.3 1533.3,89.5 1540,88C1546.7,86.5 1553.8,85.2 1560,84C1566.2,82.8 1574.2,81.1 1577,80.5" fill="none" stroke="#ff1f0f" stroke-width="14.5" stroke-linejoin="round" stroke-linecap="round"/>
</g>
<rect x="974.8" y="48.5" width="602" height="584.9" fill="none" stroke="#000" stroke-width="2.2"/>
<line x1="974.8" y1="607.3" x2="986.8" y2="607.3" stroke="#000" stroke-width="2"/>
<line x1="974.8" y1="554" x2="980.8" y2="554" stroke="#000" stroke-width="2"/>
<line x1="974.8" y1="500.8" x2="986.8" y2="500.8" stroke="#000" stroke-width="2"/>
<line x1="974.8" y1="447.5" x2="980.8" y2="447.5" stroke="#000" stroke-width="2"/>
<line x1="974.8" y1="394.3" x2="986.8" y2="394.3" stroke="#000" stroke-width="2"/>
<line x1="974.8" y1="341" x2="980.8" y2="341" stroke="#000" stroke-width="2"/>
<line x1="974.8" y1="287.7" x2="986.8" y2="287.7" stroke="#000" stroke-width="2"/>
<line x1="974.8" y1="234.5" x2="980.8" y2="234.5" stroke="#000" stroke-width="2"/>
<line x1="974.8" y1="181.2" x2="986.8" y2="181.2" stroke="#000" stroke-width="2"/>
<line x1="974.8" y1="128" x2="980.8" y2="128" stroke="#000" stroke-width="2"/>
<line x1="974.8" y1="74.7" x2="986.8" y2="74.7" stroke="#000" stroke-width="2"/>
<line x1="1095.3" y1="633.4" x2="1095.3" y2="627.4" stroke="#000" stroke-width="2"/>
<line x1="1216" y1="633.4" x2="1216" y2="621.4" stroke="#000" stroke-width="2"/>
<line x1="1336.5" y1="633.4" x2="1336.5" y2="627.4" stroke="#000" stroke-width="2"/>
<line x1="1457.2" y1="633.4" x2="1457.2" y2="621.4" stroke="#000" stroke-width="2"/>
<text x="899.5" y="621.6" font-size="45.5" textLength="61.9" lengthAdjust="spacingAndGlyphs" font-family='"Liberation Sans", Arial, sans-serif' fill="#000">0.0</text>
<text x="900.1" y="515.1" font-size="45.5" textLength="61.9" lengthAdjust="spacingAndGlyphs" font-family='"Liberation Sans", Arial, sans-serif' fill="#000">0.2</text>
<text x="899.1" y="408.6" font-size="45.5" textLength="61.9" lengthAdjust="spacingAndGlyphs" font-family='"Liberation Sans", Arial, sans-serif' fill="#000">0.4</text>
<text x="899.7" y="302.0" font-size="45.5" textLength="61.9" lengthAdjust="spacingAndGlyphs" font-family='"Liberation Sans", Arial, sans-serif' fill="#000">0.6</text>
<text x="899.7" y="195.5" font-size="45.5" textLength="61.9" lengthAdjust="spacingAndGlyphs" font-family='"Liberation Sans", Arial, sans-serif' fill="#000">0.8</text>
<text x="899.5" y="89.0" font-size="45.5" textLength="61.9" lengthAdjust="spacingAndGlyphs" font-family='"Liberation Sans", Arial, sans-serif' fill="#000">1.0</text>
<text x="924.5" y="682.0" font-size="45.5" textLength="99.0" lengthAdjust="spacingAndGlyphs" font-family='"Liberation Sans", Arial, sans-serif' fill="#000">1000</text>
<text x="1165.7" y="682.0" font-size="45.5" textLength="99.0" lengthAdjust="spacingAndGlyphs" font-family='"Liberation Sans", Arial, sans-serif' fill="#000">1200</text>
<text x="1406.9" y="682.0" font-size="45.5" textLength="99.0" lengthAdjust="spacingAndGlyphs" font-family='"Liberation Sans", Arial, sans-serif' fill="#000">1400</text>
<text x="1047.6" y="743.6" font-size="61.5" textLength="450.9" lengthAdjust="spacingAndGlyphs" font-family='"Liberation Sans", Arial, sans-serif' fill="#000">Wavelength (nm)</text>
<text transform="translate(853.9,529.0) rotate(-90)" x="0" y="0" font-size="62.0" textLength="376.2" lengthAdjust="spacingAndGlyphs" font-family='"Liberation Sans", Arial, sans-serif'>Transmittance</text>
<text x="805.9" y="40.4" font-size="42.5" textLength="53.2" lengthAdjust="spacingAndGlyphs" font-family='"Liberation Sans", Arial, sans-serif' fill="#000">(b)</text>
<text x="1049.4" y="38.1" font-size="49.2" textLength="159.7" lengthAdjust="spacingAndGlyphs" font-family='"Liberation Sans", Arial, sans-serif' fill="#000">2 Layer</text>
<text x="1216.8" y="38.1" font-size="49.2" textLength="283.9" lengthAdjust="spacingAndGlyphs" font-family='"Liberation Sans", Arial, sans-serif' fill="#000">Metasurfaces</text>
<line x1="999" y1="82" x2="1039" y2="82" stroke="#1a00ff" stroke-width="8" stroke-linecap="round"/>
<line x1="999" y1="127" x2="1039" y2="127" stroke="#ff1f0f" stroke-width="8" stroke-linecap="round"/>
<text x="1048.9" y="94.4" font-size="37.5" textLength="227.4" lengthAdjust="spacingAndGlyphs" font-family='"Liberation Sans", Arial, sans-serif' fill="#000">Measurement</text>
<text x="1050.3" y="139.0" font-size="37.5" textLength="174.1" lengthAdjust="spacingAndGlyphs" font-family='"Liberation Sans", Arial, sans-serif' fill="#000">Simulation</text>
<rect x="260" y="918.0" width="101.5" height="1423.0" fill="#e6e7e7"/>
<clipPath id="cc"><rect x="146.6" y="916.0" width="601.0" height="1425.0"/></clipPath>
<g clip-path="url(#cc)">
<g fill="#fff" stroke="#ff1f0f" stroke-width="2.5"><circle cx="148.0" cy="1223.0" r="6.4"/><circle cx="149.6" cy="1223.5" r="6.4"/><circle cx="151.2" cy="1224.0" r="6.4"/><circle cx="152.8" cy="1224.2" r="6.4"/><circle cx="154.4" cy="1223.8" r="6.4"/><circle cx="156.0" cy="1222.0" r="6.4"/><circle cx="157.6" cy="1217.2" r="6.4"/><circle cx="159.2" cy="1209.3" r="6.4"/><circle cx="160.8" cy="1201.0" r="6.4"/><circle cx="162.4" cy="1194.6" r="6.4"/><circle cx="164.0" cy="1188.5" r="6.4"/><circle cx="165.6" cy="1182.7" r="6.4"/><circle cx="167.2" cy="1177.7" r="6.4"/><circle cx="168.8" cy="1174.2" r="6.4"/><circle cx="170.4" cy="1173.0" r="6.4"/><circle cx="172.0" cy="1174.6" r="6.4"/><circle cx="173.6" cy="1178.1" r="6.4"/><circle cx="175.2" cy="1182.8" r="6.4"/><circle cx="176.8" cy="1187.7" r="6.4"/><circle cx="178.4" cy="1192.0" r="6.4"/><circle cx="180.0" cy="1196.5" r="6.4"/><circle cx="181.6" cy="1201.3" r="6.4"/><circle cx="183.2" cy="1205.4" r="6.4"/><circle cx="184.8" cy="1208.4" r="6.4"/><circle cx="186.4" cy="1210.9" r="6.4"/><circle cx="188.0" cy="1212.9" r="6.4"/><circle cx="189.6" cy="1214.7" r="6.4"/><circle cx="191.2" cy="1216.3" r="6.4"/><circle cx="192.8" cy="1217.7" r="6.4"/><circle cx="194.4" cy="1219.1" r="6.4"/><circle cx="196.0" cy="1220.5" r="6.4"/><circle cx="197.6" cy="1221.7" r="6.4"/><circle cx="199.2" cy="1222.8" r="6.4"/><circle cx="200.8" cy="1223.7" r="6.4"/><circle cx="202.4" cy="1224.4" r="6.4"/><circle cx="204.0" cy="1225.0" r="6.4"/><circle cx="205.6" cy="1225.4" r="6.4"/><circle cx="207.2" cy="1225.7" r="6.4"/><circle cx="208.8" cy="1225.8" r="6.4"/><circle cx="210.4" cy="1225.9" r="6.4"/><circle cx="212.0" cy="1225.9" r="6.4"/><circle cx="213.6" cy="1225.8" r="6.4"/><circle cx="215.2" cy="1225.7" r="6.4"/><circle cx="216.8" cy="1225.5" r="6.4"/><circle cx="218.4" cy="1225.3" r="6.4"/><circle cx="220.0" cy="1225.0" r="6.4"/><circle cx="221.6" cy="1224.7" r="6.4"/><circle cx="223.2" cy="1224.4" r="6.4"/><circle cx="224.8" cy="1224.0" r="6.4"/><circle cx="226.4" cy="1223.6" r="6.4"/><circle cx="228.0" cy="1223.1" r="6.4"/><circle cx="229.6" cy="1222.7" r="6.4"/><circle cx="231.2" cy="1222.2" r="6.4"/><circle cx="232.8" cy="1221.6" r="6.4"/><circle cx="234.4" cy="1221.1" r="6.4"/><circle cx="236.0" cy="1220.5" r="6.4"/><circle cx="237.6" cy="1219.9" r="6.4"/><circle cx="239.2" cy="1219.3" r="6.4"/><circle cx="240.8" cy="1218.7" r="6.4"/><circle cx="242.4" cy="1218.0" r="6.4"/><circle cx="244.0" cy="1217.3" r="6.4"/><circle cx="245.6" cy="1216.6" r="6.4"/><circle cx="247.2" cy="1215.9" r="6.4"/><circle cx="248.8" cy="1215.1" r="6.4"/><circle cx="250.4" cy="1214.3" r="6.4"/><circle cx="252.0" cy="1213.5" r="6.4"/><circle cx="253.6" cy="1212.6" r="6.4"/><circle cx="255.2" cy="1211.8" r="6.4"/><circle cx="256.8" cy="1210.9" r="6.4"/><circle cx="258.4" cy="1209.9" r="6.4"/><circle cx="260.0" cy="1209.0" r="6.4"/><circle cx="261.6" cy="1208.0" r="6.4"/><circle cx="263.2" cy="1207.0" r="6.4"/><circle cx="264.8" cy="1206.0" r="6.4"/><circle cx="266.4" cy="1204.9" r="6.4"/><circle cx="268.0" cy="1203.8" r="6.4"/><circle cx="269.6" cy="1202.7" r="6.4"/><circle cx="271.2" cy="1201.6" r="6.4"/><circle cx="272.8" cy="1200.4" r="6.4"/><circle cx="274.4" cy="1199.2" r="6.4"/><circle cx="276.0" cy="1198.1" r="6.4"/><circle cx="277.6" cy="1196.8" r="6.4"/><circle cx="279.2" cy="1195.6" r="6.4"/><circle cx="280.8" cy="1194.4" r="6.4"/><circle cx="282.4" cy="1193.0" r="6.4"/><circle cx="284.0" cy="1191.5" r="6.4"/><circle cx="285.6" cy="1189.9" r="6.4"/><circle cx="287.2" cy="1188.3" r="6.4"/><circle cx="288.8" cy="1186.7" r="6.4"/><circle cx="290.4" cy="1185.1" r="6.4"/><circle cx="292.0" cy="1183.7" r="6.4"/><circle cx="293.6" cy="1182.4" r="6.4"/><circle cx="295.2" cy="1181.3" r="6.4"/><circle cx="296.8" cy="1180.9" r="6.4"/><circle cx="298.4" cy="1181.5" r="6.4"/><circle cx="300.0" cy="1183.4" r="6.4"/><circle cx="301.6" cy="1185.9" r="6.4"/><circle cx="303.2" cy="1187.4" r="6.4"/><circle cx="304.8" cy="1185.9" r="6.4"/><circle cx="306.4" cy="1181.7" r="6.4"/><circle cx="308.0" cy="1175.5" r="6.4"/><circle cx="309.6" cy="1168.6" r="6.4"/><circle cx="311.2" cy="1161.8" r="6.4"/><circle cx="312.8" cy="1153.9" r="6.4"/><circle cx="314.4" cy="1146.0" r="6.4"/><circle cx="316.0" cy="1139.0" r="6.4"/><circle cx="317.6" cy="1132.9" r="6.4"/><circle cx="319.2" cy="1127.1" r="6.4"/><circle cx="320.8" cy="1121.6" r="6.4"/><circle cx="322.4" cy="1116.2" r="6.4"/><circle cx="324.0" cy="1111.0" r="6.4"/><circle cx="325.6" cy="1105.8" r="6.4"/><circle cx="327.2" cy="1100.7" r="6.4"/><circle cx="328.8" cy="1095.8" r="6.4"/><circle cx="330.4" cy="1091.2" r="6.4"/><circle cx="332.0" cy="1087.0" r="6.4"/><circle cx="333.6" cy="1083.4" r="6.4"/><circle cx="335.2" cy="1080.2" r="6.4"/><circle cx="336.8" cy="1077.3" r="6.4"/><circle cx="338.4" cy="1074.3" r="6.4"/><circle cx="340.0" cy="1071.0" r="6.4"/><circle cx="341.6" cy="1067.3" r="6.4"/><circle cx="343.2" cy="1063.3" r="6.4"/><circle cx="344.8" cy="1059.2" r="6.4"/><circle cx="346.4" cy="1055.1" r="6.4"/><circle cx="348.0" cy="1051.0" r="6.4"/><circle cx="349.6" cy="1046.8" r="6.4"/><circle cx="351.2" cy="1042.5" r="6.4"/><circle cx="352.8" cy="1038.2" r="6.4"/><circle cx="354.4" cy="1034.3" r="6.4"/><circle cx="356.0" cy="1031.0" r="6.4"/><circle cx="357.6" cy="1028.1" r="6.4"/><circle cx="359.2" cy="1025.6" r="6.4"/><circle cx="360.8" cy="1023.5" r="6.4"/><circle cx="362.4" cy="1022.2" r="6.4"/><circle cx="364.0" cy="1022.0" r="6.4"/><circle cx="365.6" cy="1023.0" r="6.4"/><circle cx="367.2" cy="1024.9" r="6.4"/><circle cx="368.8" cy="1027.7" r="6.4"/><circle cx="370.4" cy="1031.1" r="6.4"/><circle cx="372.0" cy="1035.0" r="6.4"/><circle cx="373.6" cy="1039.5" r="6.4"/><circle cx="375.2" cy="1044.7" r="6.4"/><circle cx="376.8" cy="1050.5" r="6.4"/><circle cx="378.4" cy="1056.6" r="6.4"/><circle cx="380.0" cy="1063.0" r="6.4"/><circle cx="381.6" cy="1069.6" r="6.4"/><circle cx="383.2" cy="1076.6" r="6.4"/><circle cx="384.8" cy="1083.9" r="6.4"/><circle cx="386.4" cy="1091.4" r="6.4"/><circle cx="388.0" cy="1099.0" r="6.4"/><circle cx="389.6" cy="1106.8" r="6.4"/><circle cx="391.2" cy="1114.9" r="6.4"/><circle cx="392.8" cy="1123.1" r="6.4"/><circle cx="394.4" cy="1131.2" r="6.4"/><circle cx="396.0" cy="1139.0" r="6.4"/><circle cx="397.6" cy="1146.6" r="6.4"/><circle cx="399.2" cy="1154.3" r="6.4"/><circle cx="400.8" cy="1161.7" r="6.4"/><circle cx="402.4" cy="1168.6" r="6.4"/><circle cx="404.0" cy="1175.0" r="6.4"/><circle cx="405.6" cy="1180.7" r="6.4"/><circle cx="407.2" cy="1185.8" r="6.4"/><circle cx="408.8" cy="1190.6" r="6.4"/><circle cx="410.4" cy="1194.9" r="6.4"/><circle cx="412.0" cy="1199.0" r="6.4"/><circle cx="413.6" cy="1203.1" r="6.4"/><circle cx="415.2" cy="1207.0" r="6.4"/><circle cx="416.8" cy="1210.2" r="6.4"/><circle cx="418.4" cy="1212.8" r="6.4"/><circle cx="420.0" cy="1215.0" r="6.4"/><circle cx="421.6" cy="1216.9" r="6.4"/><circle cx="423.2" cy="1218.8" r="6.4"/><circle cx="424.8" cy="1220.5" r="6.4"/><circle cx="426.4" cy="1222.1" r="6.4"/><circle cx="428.0" cy="1223.5" r="6.4"/><circle cx="429.6" cy="1224.9" r="6.4"/><circle cx="431.2" cy="1226.1" r="6.4"/><circle cx="432.8" cy="1227.2" r="6.4"/><circle cx="434.4" cy="1228.1" r="6.4"/><circle cx="436.0" cy="1229.0" r="6.4"/><circle cx="437.6" cy="1229.8" r="6.4"/><circle cx="439.2" cy="1230.4" r="6.4"/><circle cx="440.8" cy="1231.1" r="6.4"/><circle cx="442.4" cy="1231.6" r="6.4"/><circle cx="444.0" cy="1232.1" r="6.4"/><circle cx="445.6" cy="1232.5" r="6.4"/><circle cx="447.2" cy="1232.9" r="6.4"/><circle cx="448.8" cy="1233.3" r="6.4"/><circle cx="450.4" cy="1233.6" r="6.4"/><circle cx="452.0" cy="1233.9" r="6.4"/><circle cx="453.6" cy="1234.1" r="6.4"/><circle cx="455.2" cy="1234.4" r="6.4"/><circle cx="456.8" cy="1234.6" r="6.4"/><circle cx="458.4" cy="1234.8" r="6.4"/><circle cx="460.0" cy="1235.0" r="6.4"/><circle cx="461.6" cy="1235.2" r="6.4"/><circle cx="463.2" cy="1235.4" r="6.4"/><circle cx="464.8" cy="1235.5" r="6.4"/><circle cx="466.4" cy="1235.7" r="6.4"/><circle cx="468.0" cy="1235.8" r="6.4"/><circle cx="469.6" cy="1235.9" r="6.4"/><circle cx="471.2" cy="1236.0" r="6.4"/><circle cx="472.8" cy="1236.2" r="6.4"/><circle cx="474.4" cy="1236.3" r="6.4"/><circle cx="476.0" cy="1236.3" r="6.4"/><circle cx="477.6" cy="1236.4" r="6.4"/><circle cx="479.2" cy="1236.5" r="6.4"/><circle cx="480.8" cy="1236.6" r="6.4"/><circle cx="482.4" cy="1236.6" r="6.4"/><circle cx="484.0" cy="1236.7" r="6.4"/><circle cx="485.6" cy="1236.8" r="6.4"/><circle cx="487.2" cy="1236.8" r="6.4"/><circle cx="488.8" cy="1236.9" r="6.4"/><circle cx="490.4" cy="1236.9" r="6.4"/><circle cx="492.0" cy="1236.9" r="6.4"/><circle cx="493.6" cy="1237.0" r="6.4"/><circle cx="495.2" cy="1237.0" r="6.4"/><circle cx="496.8" cy="1237.0" r="6.4"/><circle cx="498.4" cy="1237.0" r="6.4"/><circle cx="500.0" cy="1237.0" r="6.4"/><circle cx="501.6" cy="1237.0" r="6.4"/><circle cx="503.2" cy="1237.0" r="6.4"/><circle cx="504.8" cy="1237.0" r="6.4"/><circle cx="506.4" cy="1237.0" r="6.4"/><circle cx="508.0" cy="1237.0" r="6.4"/><circle cx="509.6" cy="1236.9" r="6.4"/><circle cx="511.2" cy="1236.9" r="6.4"/><circle cx="512.8" cy="1236.9" r="6.4"/><circle cx="514.4" cy="1236.8" r="6.4"/><circle cx="516.0" cy="1236.8" r="6.4"/><circle cx="517.6" cy="1236.8" r="6.4"/><circle cx="519.2" cy="1236.7" r="6.4"/><circle cx="520.8" cy="1236.6" r="6.4"/><circle cx="522.4" cy="1236.6" r="6.4"/><circle cx="524.0" cy="1236.5" r="6.4"/><circle cx="525.6" cy="1236.4" r="6.4"/><circle cx="527.2" cy="1236.3" r="6.4"/><circle cx="528.8" cy="1236.2" r="6.4"/><circle cx="530.4" cy="1236.1" r="6.4"/><circle cx="532.0" cy="1236.0" r="6.4"/><circle cx="533.6" cy="1235.8" r="6.4"/><circle cx="535.2" cy="1235.6" r="6.4"/><circle cx="536.8" cy="1235.5" r="6.4"/><circle cx="538.4" cy="1235.2" r="6.4"/><circle cx="540.0" cy="1235.0" r="6.4"/><circle cx="541.6" cy="1234.7" r="6.4"/><circle cx="543.2" cy="1234.5" r="6.4"/><circle cx="544.8" cy="1234.2" r="6.4"/><circle cx="546.4" cy="1233.8" r="6.4"/><circle cx="548.0" cy="1233.5" r="6.4"/><circle cx="549.6" cy="1233.1" r="6.4"/><circle cx="551.2" cy="1232.6" r="6.4"/><circle cx="552.8" cy="1232.0" r="6.4"/><circle cx="554.4" cy="1231.2" r="6.4"/><circle cx="556.0" cy="1230.3" r="6.4"/><circle cx="557.6" cy="1229.1" r="6.4"/><circle cx="559.2" cy="1227.8" r="6.4"/><circle cx="560.8" cy="1226.1" r="6.4"/><circle cx="562.4" cy="1224.1" r="6.4"/><circle cx="564.0" cy="1221.6" r="6.4"/><circle cx="565.6" cy="1218.7" r="6.4"/><circle cx="567.2" cy="1215.2" r="6.4"/><circle cx="568.8" cy="1211.4" r="6.4"/><circle cx="570.4" cy="1207.2" r="6.4"/><circle cx="572.0" cy="1203.0" r="6.4"/><circle cx="573.6" cy="1198.6" r="6.4"/><circle cx="575.2" cy="1193.5" r="6.4"/><circle cx="576.8" cy="1187.7" r="6.4"/><circle cx="578.4" cy="1181.4" r="6.4"/><circle cx="580.0" cy="1175.0" r="6.4"/><circle cx="581.6" cy="1168.3" r="6.4"/><circle cx="583.2" cy="1161.2" r="6.4"/><circle cx="584.8" cy="1153.8" r="6.4"/><circle cx="586.4" cy="1146.3" r="6.4"/><circle cx="588.0" cy="1139.0" r="6.4"/><circle cx="589.6" cy="1131.8" r="6.4"/><circle cx="591.2" cy="1124.6" r="6.4"/><circle cx="592.8" cy="1117.4" r="6.4"/><circle cx="594.4" cy="1110.2" r="6.4"/><circle cx="596.0" cy="1103.0" r="6.4"/><circle cx="597.6" cy="1095.7" r="6.4"/><circle cx="599.2" cy="1088.4" r="6.4"/><circle cx="600.8" cy="1081.1" r="6.4"/><circle cx="602.4" cy="1073.9" r="6.4"/><circle cx="604.0" cy="1067.0" r="6.4"/><circle cx="605.6" cy="1060.0" r="6.4"/><circle cx="607.2" cy="1053.0" r="6.4"/><circle cx="608.8" cy="1046.2" r="6.4"/><circle cx="610.4" cy="1040.1" r="6.4"/><circle cx="612.0" cy="1035.0" r="6.4"/><circle cx="613.6" cy="1031.5" r="6.4"/><circle cx="615.2" cy="1029.3" r="6.4"/><circle cx="616.8" cy="1027.7" r="6.4"/><circle cx="618.4" cy="1025.8" r="6.4"/><circle cx="620.0" cy="1023.0" r="6.4"/><circle cx="621.6" cy="1018.5" r="6.4"/><circle cx="623.2" cy="1012.8" r="6.4"/><circle cx="624.8" cy="1007.0" r="6.4"/><circle cx="626.4" cy="1002.3" r="6.4"/><circle cx="628.0" cy="999.0" r="6.4"/><circle cx="629.6" cy="996.9" r="6.4"/><circle cx="631.2" cy="995.5" r="6.4"/><circle cx="632.8" cy="994.5" r="6.4"/><circle cx="634.4" cy="993.7" r="6.4"/><circle cx="636.0" cy="993.0" r="6.4"/><circle cx="637.6" cy="992.3" r="6.4"/><circle cx="639.2" cy="991.5" r="6.4"/><circle cx="640.8" cy="990.5" r="6.4"/><circle cx="642.4" cy="989.4" r="6.4"/><circle cx="644.0" cy="988.4" r="6.4"/><circle cx="645.6" cy="987.3" r="6.4"/><circle cx="647.2" cy="986.3" r="6.4"/><circle cx="648.8" cy="985.2" r="6.4"/><circle cx="650.4" cy="984.1" r="6.4"/><circle cx="652.0" cy="983.0" r="6.4"/><circle cx="653.6" cy="981.8" r="6.4"/><circle cx="655.2" cy="980.6" r="6.4"/><circle cx="656.8" cy="979.4" r="6.4"/><circle cx="658.4" cy="978.2" r="6.4"/><circle cx="660.0" cy="976.9" r="6.4"/><circle cx="661.6" cy="975.7" r="6.4"/><circle cx="663.2" cy="974.5" r="6.4"/><circle cx="664.8" cy="973.3" r="6.4"/><circle cx="666.4" cy="972.1" r="6.4"/><circle cx="668.0" cy="971.0" r="6.4"/><circle cx="669.6" cy="969.9" r="6.4"/><circle cx="671.2" cy="968.9" r="6.4"/><circle cx="672.8" cy="967.9" r="6.4"/><circle cx="674.4" cy="966.9" r="6.4"/><circle cx="676.0" cy="966.0" r="6.4"/><circle cx="677.6" cy="965.0" r="6.4"/><circle cx="679.2" cy="964.1" r="6.4"/><circle cx="680.8" cy="963.1" r="6.4"/><circle cx="682.4" cy="962.1" r="6.4"/><circle cx="684.0" cy="961.0" r="6.4"/><circle cx="685.6" cy="959.7" r="6.4"/><circle cx="687.2" cy="957.9" r="6.4"/><circle cx="688.8" cy="956.0" r="6.4"/><circle cx="690.4" cy="954.1" r="6.4"/><circle cx="692.0" cy="952.9" r="6.4"/><circle cx="693.6" cy="952.8" r="6.4"/><circle cx="695.2" cy="954.1" r="6.4"/><circle cx="696.8" cy="956.9" r="6.4"/><circle cx="698.4" cy="960.6" r="6.4"/><circle cx="700.0" cy="964.5" r="6.4"/><circle cx="701.6" cy="967.9" r="6.4"/><circle cx="703.2" cy="970.3" r="6.4"/><circle cx="704.8" cy="971.4" r="6.4"/><circle cx="706.4" cy="971.6" r="6.4"/><circle cx="708.0" cy="971.2" r="6.4"/><circle cx="709.6" cy="970.4" r="6.4"/><circle cx="711.2" cy="969.5" r="6.4"/><circle cx="712.8" cy="968.5" r="6.4"/><circle cx="714.4" cy="967.6" r="6.4"/><circle cx="716.0" cy="967.0" r="6.4"/><circle cx="717.6" cy="966.6" r="6.4"/><circle cx="719.2" cy="966.3" r="6.4"/><circle cx="720.8" cy="966.1" r="6.4"/><circle cx="722.4" cy="965.8" r="6.4"/><circle cx="724.0" cy="965.6" r="6.4"/><circle cx="725.6" cy="965.4" r="6.4"/><circle cx="727.2" cy="965.1" r="6.4"/><circle cx="728.8" cy="964.9" r="6.4"/><circle cx="730.4" cy="964.9" r="6.4"/><circle cx="732.0" cy="965.0" r="6.4"/><circle cx="733.6" cy="965.1" r="6.4"/><circle cx="735.2" cy="965.1" r="6.4"/><circle cx="736.8" cy="964.9" r="6.4"/><circle cx="738.4" cy="964.3" r="6.4"/><circle cx="740.0" cy="963.0" r="6.4"/><circle cx="741.6" cy="960.0" r="6.4"/><circle cx="743.2" cy="955.0" r="6.4"/><circle cx="744.8" cy="948.2" r="6.4"/></g>
<g fill="#fff" stroke="#f0b8bc" stroke-width="2.5"><circle cx="148.0" cy="1572.0" r="6.4"/><circle cx="149.6" cy="1559.9" r="6.4"/><circle cx="151.2" cy="1549.2" r="6.4"/><circle cx="152.8" cy="1541.3" r="6.4"/><circle cx="154.4" cy="1534.2" r="6.4"/><circle cx="156.0" cy="1528.9" r="6.4"/><circle cx="157.6" cy="1526.2" r="6.4"/><circle cx="159.2" cy="1526.6" r="6.4"/><circle cx="160.8" cy="1529.2" r="6.4"/><circle cx="162.4" cy="1532.9" r="6.4"/><circle cx="164.0" cy="1537.0" r="6.4"/><circle cx="165.6" cy="1541.1" r="6.4"/><circle cx="167.2" cy="1545.0" r="6.4"/><circle cx="168.8" cy="1549.6" r="6.4"/><circle cx="170.4" cy="1552.6" r="6.4"/><circle cx="172.0" cy="1554.7" r="6.4"/><circle cx="173.6" cy="1556.5" r="6.4"/><circle cx="175.2" cy="1558.2" r="6.4"/><circle cx="176.8" cy="1560.2" r="6.4"/><circle cx="178.4" cy="1562.7" r="6.4"/><circle cx="180.0" cy="1566.9" r="6.4"/><circle cx="181.6" cy="1571.7" r="6.4"/><circle cx="183.2" cy="1575.0" r="6.4"/><circle cx="184.8" cy="1576.8" r="6.4"/><circle cx="186.4" cy="1578.2" r="6.4"/><circle cx="188.0" cy="1579.3" r="6.4"/><circle cx="189.6" cy="1580.1" r="6.4"/><circle cx="191.2" cy="1580.7" r="6.4"/><circle cx="192.8" cy="1581.2" r="6.4"/><circle cx="194.4" cy="1581.6" r="6.4"/><circle cx="196.0" cy="1582.0" r="6.4"/><circle cx="197.6" cy="1582.3" r="6.4"/><circle cx="199.2" cy="1582.6" r="6.4"/><circle cx="200.8" cy="1582.9" r="6.4"/><circle cx="202.4" cy="1583.2" r="6.4"/><circle cx="204.0" cy="1583.4" r="6.4"/><circle cx="205.6" cy="1583.6" r="6.4"/><circle cx="207.2" cy="1583.7" r="6.4"/><circle cx="208.8" cy="1583.9" r="6.4"/><circle cx="210.4" cy="1584.0" r="6.4"/><circle cx="212.0" cy="1584.1" r="6.4"/><circle cx="213.6" cy="1584.2" r="6.4"/><circle cx="215.2" cy="1584.2" r="6.4"/><circle cx="216.8" cy="1584.2" r="6.4"/><circle cx="218.4" cy="1584.1" r="6.4"/><circle cx="220.0" cy="1584.0" r="6.4"/><circle cx="221.6" cy="1583.8" r="6.4"/><circle cx="223.2" cy="1583.6" r="6.4"/><circle cx="224.8" cy="1583.4" r="6.4"/><circle cx="226.4" cy="1583.1" r="6.4"/><circle cx="228.0" cy="1582.7" r="6.4"/><circle cx="229.6" cy="1582.4" r="6.4"/><circle cx="231.2" cy="1582.0" r="6.4"/><circle cx="232.8" cy="1581.5" r="6.4"/><circle cx="234.4" cy="1581.1" r="6.4"/><circle cx="236.0" cy="1580.6" r="6.4"/><circle cx="237.6" cy="1580.1" r="6.4"/><circle cx="239.2" cy="1579.6" r="6.4"/><circle cx="240.8" cy="1579.1" r="6.4"/><circle cx="242.4" cy="1578.6" r="6.4"/><circle cx="244.0" cy="1578.0" r="6.4"/><circle cx="245.6" cy="1577.4" r="6.4"/><circle cx="247.2" cy="1576.8" r="6.4"/><circle cx="248.8" cy="1576.1" r="6.4"/><circle cx="250.4" cy="1575.4" r="6.4"/><circle cx="252.0" cy="1574.6" r="6.4"/><circle cx="253.6" cy="1573.8" r="6.4"/><circle cx="255.2" cy="1572.9" r="6.4"/><circle cx="256.8" cy="1572.0" r="6.4"/><circle cx="258.4" cy="1571.0" r="6.4"/><circle cx="260.0" cy="1570.0" r="6.4"/><circle cx="261.6" cy="1569.0" r="6.4"/><circle cx="263.2" cy="1567.8" r="6.4"/><circle cx="264.8" cy="1566.7" r="6.4"/><circle cx="266.4" cy="1565.4" r="6.4"/><circle cx="268.0" cy="1564.2" r="6.4"/><circle cx="269.6" cy="1562.9" r="6.4"/><circle cx="271.2" cy="1561.7" r="6.4"/><circle cx="272.8" cy="1560.4" r="6.4"/><circle cx="274.4" cy="1559.2" r="6.4"/><circle cx="276.0" cy="1558.0" r="6.4"/><circle cx="277.6" cy="1556.8" r="6.4"/><circle cx="279.2" cy="1555.6" r="6.4"/><circle cx="280.8" cy="1554.3" r="6.4"/><circle cx="282.4" cy="1553.0" r="6.4"/><circle cx="284.0" cy="1551.9" r="6.4"/><circle cx="285.6" cy="1550.9" r="6.4"/><circle cx="287.2" cy="1550.2" r="6.4"/><circle cx="288.8" cy="1550.1" r="6.4"/><circle cx="290.4" cy="1551.8" r="6.4"/><circle cx="292.0" cy="1554.9" r="6.4"/><circle cx="293.6" cy="1556.4" r="6.4"/><circle cx="295.2" cy="1552.1" r="6.4"/><circle cx="296.8" cy="1541.3" r="6.4"/><circle cx="298.4" cy="1532.0" r="6.4"/><circle cx="300.0" cy="1524.0" r="6.4"/><circle cx="301.6" cy="1516.4" r="6.4"/><circle cx="303.2" cy="1509.3" r="6.4"/><circle cx="304.8" cy="1502.9" r="6.4"/><circle cx="306.4" cy="1497.4" r="6.4"/><circle cx="308.0" cy="1492.1" r="6.4"/><circle cx="309.6" cy="1486.8" r="6.4"/><circle cx="311.2" cy="1481.1" r="6.4"/><circle cx="312.8" cy="1474.7" r="6.4"/><circle cx="314.4" cy="1467.8" r="6.4"/><circle cx="316.0" cy="1460.5" r="6.4"/><circle cx="317.6" cy="1453.1" r="6.4"/><circle cx="319.2" cy="1445.6" r="6.4"/><circle cx="320.8" cy="1438.4" r="6.4"/><circle cx="322.4" cy="1430.9" r="6.4"/><circle cx="324.0" cy="1423.5" r="6.4"/><circle cx="325.6" cy="1416.2" r="6.4"/><circle cx="327.2" cy="1409.3" r="6.4"/><circle cx="328.8" cy="1402.8" r="6.4"/><circle cx="330.4" cy="1396.7" r="6.4"/><circle cx="332.0" cy="1390.9" r="6.4"/><circle cx="333.6" cy="1385.4" r="6.4"/><circle cx="335.2" cy="1380.4" r="6.4"/><circle cx="336.8" cy="1375.8" r="6.4"/><circle cx="338.4" cy="1371.6" r="6.4"/><circle cx="340.0" cy="1367.9" r="6.4"/><circle cx="341.6" cy="1364.5" r="6.4"/><circle cx="343.2" cy="1361.4" r="6.4"/><circle cx="344.8" cy="1358.6" r="6.4"/><circle cx="346.4" cy="1355.7" r="6.4"/><circle cx="348.0" cy="1353.1" r="6.4"/><circle cx="349.6" cy="1351.1" r="6.4"/><circle cx="351.2" cy="1350.1" r="6.4"/><circle cx="352.8" cy="1350.2" r="6.4"/><circle cx="354.4" cy="1351.2" r="6.4"/><circle cx="356.0" cy="1353.1" r="6.4"/><circle cx="357.6" cy="1355.9" r="6.4"/><circle cx="359.2" cy="1359.7" r="6.4"/><circle cx="360.8" cy="1364.6" r="6.4"/><circle cx="362.4" cy="1370.7" r="6.4"/><circle cx="364.0" cy="1377.7" r="6.4"/><circle cx="365.6" cy="1385.6" r="6.4"/><circle cx="367.2" cy="1393.8" r="6.4"/><circle cx="368.8" cy="1402.3" r="6.4"/><circle cx="370.4" cy="1411.5" r="6.4"/><circle cx="372.0" cy="1421.2" r="6.4"/><circle cx="373.6" cy="1431.2" r="6.4"/><circle cx="375.2" cy="1441.1" r="6.4"/><circle cx="376.8" cy="1450.9" r="6.4"/><circle cx="378.4" cy="1460.8" r="6.4"/><circle cx="380.0" cy="1470.7" r="6.4"/><circle cx="381.6" cy="1480.5" r="6.4"/><circle cx="383.2" cy="1489.7" r="6.4"/><circle cx="384.8" cy="1498.1" r="6.4"/><circle cx="386.4" cy="1506.1" r="6.4"/><circle cx="388.0" cy="1513.5" r="6.4"/><circle cx="389.6" cy="1520.5" r="6.4"/><circle cx="391.2" cy="1526.9" r="6.4"/><circle cx="392.8" cy="1533.0" r="6.4"/><circle cx="394.4" cy="1538.6" r="6.4"/><circle cx="396.0" cy="1543.6" r="6.4"/><circle cx="397.6" cy="1548.1" r="6.4"/><circle cx="399.2" cy="1552.1" r="6.4"/><circle cx="400.8" cy="1555.8" r="6.4"/><circle cx="402.4" cy="1559.4" r="6.4"/><circle cx="404.0" cy="1562.8" r="6.4"/><circle cx="405.6" cy="1565.9" r="6.4"/><circle cx="407.2" cy="1568.9" r="6.4"/><circle cx="408.8" cy="1571.5" r="6.4"/><circle cx="410.4" cy="1573.9" r="6.4"/><circle cx="412.0" cy="1576.0" r="6.4"/><circle cx="413.6" cy="1577.9" r="6.4"/><circle cx="415.2" cy="1579.7" r="6.4"/><circle cx="416.8" cy="1581.4" r="6.4"/><circle cx="418.4" cy="1582.8" r="6.4"/><circle cx="420.0" cy="1584.1" r="6.4"/><circle cx="421.6" cy="1585.1" r="6.4"/><circle cx="423.2" cy="1586.0" r="6.4"/><circle cx="424.8" cy="1586.8" r="6.4"/><circle cx="426.4" cy="1587.4" r="6.4"/><circle cx="428.0" cy="1588.0" r="6.4"/><circle cx="429.6" cy="1588.5" r="6.4"/><circle cx="431.2" cy="1588.9" r="6.4"/><circle cx="432.8" cy="1589.3" r="6.4"/><circle cx="434.4" cy="1589.6" r="6.4"/><circle cx="436.0" cy="1589.9" r="6.4"/><circle cx="437.6" cy="1590.1" r="6.4"/><circle cx="439.2" cy="1590.3" r="6.4"/><circle cx="440.8" cy="1590.5" r="6.4"/><circle cx="442.4" cy="1590.7" r="6.4"/><circle cx="444.0" cy="1590.8" r="6.4"/><circle cx="445.6" cy="1591.0" r="6.4"/><circle cx="447.2" cy="1591.1" r="6.4"/><circle cx="448.8" cy="1591.2" r="6.4"/><circle cx="450.4" cy="1591.4" r="6.4"/><circle cx="452.0" cy="1591.5" r="6.4"/><circle cx="453.6" cy="1591.6" r="6.4"/><circle cx="455.2" cy="1591.7" r="6.4"/><circle cx="456.8" cy="1591.8" r="6.4"/><circle cx="458.4" cy="1591.9" r="6.4"/><circle cx="460.0" cy="1592.0" r="6.4"/><circle cx="461.6" cy="1592.1" r="6.4"/><circle cx="463.2" cy="1592.2" r="6.4"/><circle cx="464.8" cy="1592.3" r="6.4"/><circle cx="466.4" cy="1592.4" r="6.4"/><circle cx="468.0" cy="1592.5" r="6.4"/><circle cx="469.6" cy="1592.6" r="6.4"/><circle cx="471.2" cy="1592.6" r="6.4"/><circle cx="472.8" cy="1592.7" r="6.4"/><circle cx="474.4" cy="1592.8" r="6.4"/><circle cx="476.0" cy="1592.8" r="6.4"/><circle cx="477.6" cy="1592.9" r="6.4"/><circle cx="479.2" cy="1592.9" r="6.4"/><circle cx="480.8" cy="1593.0" r="6.4"/><circle cx="482.4" cy="1593.0" r="6.4"/><circle cx="484.0" cy="1593.0" r="6.4"/><circle cx="485.6" cy="1593.1" r="6.4"/><circle cx="487.2" cy="1593.1" r="6.4"/><circle cx="488.8" cy="1593.1" r="6.4"/><circle cx="490.4" cy="1593.1" r="6.4"/><circle cx="492.0" cy="1593.1" r="6.4"/><circle cx="493.6" cy="1593.1" r="6.4"/><circle cx="495.2" cy="1593.1" r="6.4"/><circle cx="496.8" cy="1593.1" r="6.4"/><circle cx="498.4" cy="1593.0" r="6.4"/><circle cx="500.0" cy="1593.0" r="6.4"/><circle cx="501.6" cy="1593.0" r="6.4"/><circle cx="503.2" cy="1592.9" r="6.4"/><circle cx="504.8" cy="1592.9" r="6.4"/><circle cx="506.4" cy="1592.8" r="6.4"/><circle cx="508.0" cy="1592.7" r="6.4"/><circle cx="509.6" cy="1592.7" r="6.4"/><circle cx="511.2" cy="1592.6" r="6.4"/><circle cx="512.8" cy="1592.5" r="6.4"/><circle cx="514.4" cy="1592.4" r="6.4"/><circle cx="516.0" cy="1592.3" r="6.4"/><circle cx="517.6" cy="1592.2" r="6.4"/><circle cx="519.2" cy="1592.1" r="6.4"/><circle cx="520.8" cy="1591.9" r="6.4"/><circle cx="522.4" cy="1591.7" r="6.4"/><circle cx="524.0" cy="1591.6" r="6.4"/><circle cx="525.6" cy="1591.3" r="6.4"/><circle cx="527.2" cy="1591.1" r="6.4"/><circle cx="528.8" cy="1590.8" r="6.4"/><circle cx="530.4" cy="1590.4" r="6.4"/><circle cx="532.0" cy="1590.0" r="6.4"/><circle cx="533.6" cy="1589.5" r="6.4"/><circle cx="535.2" cy="1588.9" r="6.4"/><circle cx="536.8" cy="1588.1" r="6.4"/><circle cx="538.4" cy="1587.1" r="6.4"/><circle cx="540.0" cy="1585.7" r="6.4"/><circle cx="541.6" cy="1583.7" r="6.4"/><circle cx="543.2" cy="1581.3" r="6.4"/><circle cx="544.8" cy="1578.6" r="6.4"/><circle cx="546.4" cy="1575.3" r="6.4"/><circle cx="548.0" cy="1571.1" r="6.4"/><circle cx="549.6" cy="1566.1" r="6.4"/><circle cx="551.2" cy="1560.7" r="6.4"/><circle cx="552.8" cy="1555.2" r="6.4"/><circle cx="554.4" cy="1549.1" r="6.4"/><circle cx="556.0" cy="1542.6" r="6.4"/><circle cx="557.6" cy="1535.9" r="6.4"/><circle cx="559.2" cy="1529.2" r="6.4"/><circle cx="560.8" cy="1522.8" r="6.4"/><circle cx="562.4" cy="1516.7" r="6.4"/><circle cx="564.0" cy="1510.5" r="6.4"/><circle cx="565.6" cy="1504.2" r="6.4"/><circle cx="567.2" cy="1497.5" r="6.4"/><circle cx="568.8" cy="1490.3" r="6.4"/><circle cx="570.4" cy="1482.3" r="6.4"/><circle cx="572.0" cy="1474.0" r="6.4"/><circle cx="573.6" cy="1465.7" r="6.4"/><circle cx="575.2" cy="1457.7" r="6.4"/><circle cx="576.8" cy="1450.4" r="6.4"/><circle cx="578.4" cy="1443.6" r="6.4"/><circle cx="580.0" cy="1437.0" r="6.4"/><circle cx="581.6" cy="1430.8" r="6.4"/><circle cx="583.2" cy="1424.8" r="6.4"/><circle cx="584.8" cy="1419.3" r="6.4"/><circle cx="586.4" cy="1414.6" r="6.4"/><circle cx="588.0" cy="1410.3" r="6.4"/><circle cx="589.6" cy="1405.8" r="6.4"/><circle cx="591.2" cy="1400.9" r="6.4"/><circle cx="592.8" cy="1394.8" r="6.4"/><circle cx="594.4" cy="1387.6" r="6.4"/><circle cx="596.0" cy="1379.8" r="6.4"/><circle cx="597.6" cy="1372.0" r="6.4"/><circle cx="599.2" cy="1365.0" r="6.4"/><circle cx="600.8" cy="1359.2" r="6.4"/><circle cx="602.4" cy="1353.9" r="6.4"/><circle cx="604.0" cy="1349.2" r="6.4"/><circle cx="605.6" cy="1345.6" r="6.4"/><circle cx="607.2" cy="1343.0" r="6.4"/><circle cx="608.8" cy="1341.3" r="6.4"/><circle cx="610.4" cy="1340.4" r="6.4"/><circle cx="612.0" cy="1340.1" r="6.4"/><circle cx="613.6" cy="1340.1" r="6.4"/><circle cx="615.2" cy="1340.3" r="6.4"/><circle cx="616.8" cy="1340.4" r="6.4"/><circle cx="618.4" cy="1340.3" r="6.4"/><circle cx="620.0" cy="1340.0" r="6.4"/><circle cx="621.6" cy="1339.5" r="6.4"/><circle cx="623.2" cy="1338.8" r="6.4"/><circle cx="624.8" cy="1338.0" r="6.4"/><circle cx="626.4" cy="1337.3" r="6.4"/><circle cx="628.0" cy="1336.5" r="6.4"/><circle cx="629.6" cy="1335.8" r="6.4"/><circle cx="631.2" cy="1335.1" r="6.4"/><circle cx="632.8" cy="1334.6" r="6.4"/><circle cx="634.4" cy="1334.2" r="6.4"/><circle cx="636.0" cy="1334.0" r="6.4"/><circle cx="637.6" cy="1334.0" r="6.4"/><circle cx="639.2" cy="1334.3" r="6.4"/><circle cx="640.8" cy="1334.7" r="6.4"/><circle cx="642.4" cy="1335.2" r="6.4"/><circle cx="644.0" cy="1335.8" r="6.4"/><circle cx="645.6" cy="1336.4" r="6.4"/><circle cx="647.2" cy="1337.0" r="6.4"/><circle cx="648.8" cy="1337.5" r="6.4"/><circle cx="650.4" cy="1337.8" r="6.4"/><circle cx="652.0" cy="1338.0" r="6.4"/><circle cx="653.6" cy="1338.0" r="6.4"/><circle cx="655.2" cy="1337.9" r="6.4"/><circle cx="656.8" cy="1337.6" r="6.4"/><circle cx="658.4" cy="1337.2" r="6.4"/><circle cx="660.0" cy="1336.6" r="6.4"/><circle cx="661.6" cy="1335.7" r="6.4"/><circle cx="663.2" cy="1334.6" r="6.4"/><circle cx="664.8" cy="1333.3" r="6.4"/><circle cx="666.4" cy="1331.5" r="6.4"/><circle cx="668.0" cy="1329.3" r="6.4"/><circle cx="669.6" cy="1326.9" r="6.4"/><circle cx="671.2" cy="1324.4" r="6.4"/><circle cx="672.8" cy="1322.0" r="6.4"/><circle cx="674.4" cy="1319.9" r="6.4"/><circle cx="676.0" cy="1318.0" r="6.4"/><circle cx="677.6" cy="1316.3" r="6.4"/><circle cx="679.2" cy="1314.5" r="6.4"/><circle cx="680.8" cy="1312.8" r="6.4"/><circle cx="682.4" cy="1311.1" r="6.4"/><circle cx="684.0" cy="1309.5" r="6.4"/><circle cx="685.6" cy="1308.0" r="6.4"/><circle cx="687.2" cy="1306.7" r="6.4"/><circle cx="688.8" cy="1305.5" r="6.4"/><circle cx="690.4" cy="1304.6" r="6.4"/><circle cx="692.0" cy="1304.0" r="6.4"/><circle cx="693.6" cy="1304.0" r="6.4"/><circle cx="695.2" cy="1304.6" r="6.4"/><circle cx="696.8" cy="1305.8" r="6.4"/><circle cx="698.4" cy="1307.4" r="6.4"/><circle cx="700.0" cy="1309.1" r="6.4"/><circle cx="701.6" cy="1310.6" r="6.4"/><circle cx="703.2" cy="1311.7" r="6.4"/><circle cx="704.8" cy="1312.1" r="6.4"/><circle cx="706.4" cy="1312.1" r="6.4"/><circle cx="708.0" cy="1311.8" r="6.4"/><circle cx="709.6" cy="1311.3" r="6.4"/><circle cx="711.2" cy="1310.8" r="6.4"/><circle cx="712.8" cy="1310.3" r="6.4"/><circle cx="714.4" cy="1310.0" r="6.4"/><circle cx="716.0" cy="1310.0" r="6.4"/><circle cx="717.6" cy="1310.2" r="6.4"/><circle cx="719.2" cy="1310.6" r="6.4"/><circle cx="720.8" cy="1311.0" r="6.4"/><circle cx="722.4" cy="1311.5" r="6.4"/><circle cx="724.0" cy="1312.0" r="6.4"/><circle cx="725.6" cy="1312.6" r="6.4"/><circle cx="727.2" cy="1313.1" r="6.4"/><circle cx="728.8" cy="1313.5" r="6.4"/><circle cx="730.4" cy="1313.8" r="6.4"/><circle cx="732.0" cy="1314.0" r="6.4"/><circle cx="733.6" cy="1313.9" r="6.4"/><circle cx="735.2" cy="1313.6" r="6.4"/><circle cx="736.8" cy="1312.9" r="6.4"/><circle cx="738.4" cy="1311.7" r="6.4"/><circle cx="740.0" cy="1310.0" r="6.4"/><circle cx="741.6" cy="1307.6" r="6.4"/><circle cx="743.2" cy="1304.4" r="6.4"/><circle cx="744.8" cy="1300.7" r="6.4"/></g>
<g fill="#fff" stroke="#9494ff" stroke-width="2.5"><circle cx="150.0" cy="1885.0" r="6.4"/><circle cx="151.6" cy="1885.5" r="6.4"/><circle cx="153.2" cy="1886.0" r="6.4"/><circle cx="154.8" cy="1887.2" r="6.4"/><circle cx="156.4" cy="1889.9" r="6.4"/><circle cx="158.0" cy="1894.9" r="6.4"/><circle cx="159.6" cy="1901.0" r="6.4"/><circle cx="161.2" cy="1906.7" r="6.4"/><circle cx="162.8" cy="1911.0" r="6.4"/><circle cx="164.4" cy="1914.8" r="6.4"/><circle cx="166.0" cy="1917.3" r="6.4"/><circle cx="167.6" cy="1918.8" r="6.4"/><circle cx="169.2" cy="1919.4" r="6.4"/><circle cx="170.8" cy="1919.6" r="6.4"/><circle cx="172.4" cy="1919.4" r="6.4"/><circle cx="174.0" cy="1919.2" r="6.4"/><circle cx="175.6" cy="1918.9" r="6.4"/><circle cx="177.2" cy="1918.8" r="6.4"/><circle cx="178.8" cy="1918.8" r="6.4"/><circle cx="180.4" cy="1919.1" r="6.4"/><circle cx="182.0" cy="1919.6" r="6.4"/><circle cx="183.6" cy="1920.3" r="6.4"/><circle cx="185.2" cy="1921.1" r="6.4"/><circle cx="186.8" cy="1921.9" r="6.4"/><circle cx="188.4" cy="1922.9" r="6.4"/><circle cx="190.0" cy="1923.8" r="6.4"/><circle cx="191.6" cy="1924.8" r="6.4"/><circle cx="193.2" cy="1925.7" r="6.4"/><circle cx="194.8" cy="1926.8" r="6.4"/><circle cx="196.4" cy="1927.9" r="6.4"/><circle cx="198.0" cy="1929.1" r="6.4"/><circle cx="199.6" cy="1930.2" r="6.4"/><circle cx="201.2" cy="1931.3" r="6.4"/><circle cx="202.8" cy="1932.3" r="6.4"/><circle cx="204.4" cy="1933.2" r="6.4"/><circle cx="206.0" cy="1934.1" r="6.4"/><circle cx="207.6" cy="1935.0" r="6.4"/><circle cx="209.2" cy="1935.9" r="6.4"/><circle cx="210.8" cy="1936.8" r="6.4"/><circle cx="212.4" cy="1937.6" r="6.4"/><circle cx="214.0" cy="1938.4" r="6.4"/><circle cx="215.6" cy="1939.1" r="6.4"/><circle cx="217.2" cy="1939.9" r="6.4"/><circle cx="218.8" cy="1940.5" r="6.4"/><circle cx="220.4" cy="1941.1" r="6.4"/><circle cx="222.0" cy="1941.7" r="6.4"/><circle cx="223.6" cy="1942.2" r="6.4"/><circle cx="225.2" cy="1942.6" r="6.4"/><circle cx="226.8" cy="1943.0" r="6.4"/><circle cx="228.4" cy="1943.2" r="6.4"/><circle cx="230.0" cy="1943.2" r="6.4"/><circle cx="231.6" cy="1943.1" r="6.4"/><circle cx="233.2" cy="1942.7" r="6.4"/><circle cx="234.8" cy="1942.2" r="6.4"/><circle cx="236.4" cy="1941.6" r="6.4"/><circle cx="238.0" cy="1940.7" r="6.4"/><circle cx="239.6" cy="1939.8" r="6.4"/><circle cx="241.2" cy="1938.8" r="6.4"/><circle cx="242.8" cy="1937.8" r="6.4"/><circle cx="244.4" cy="1936.7" r="6.4"/><circle cx="246.0" cy="1935.7" r="6.4"/><circle cx="247.6" cy="1934.5" r="6.4"/><circle cx="249.2" cy="1933.4" r="6.4"/><circle cx="250.8" cy="1932.2" r="6.4"/><circle cx="252.4" cy="1931.0" r="6.4"/><circle cx="254.0" cy="1929.8" r="6.4"/><circle cx="255.6" cy="1928.5" r="6.4"/><circle cx="257.2" cy="1927.3" r="6.4"/><circle cx="258.8" cy="1926.0" r="6.4"/><circle cx="260.4" cy="1924.7" r="6.4"/><circle cx="262.0" cy="1923.5" r="6.4"/><circle cx="263.6" cy="1922.4" r="6.4"/><circle cx="265.2" cy="1921.1" r="6.4"/><circle cx="266.8" cy="1919.1" r="6.4"/><circle cx="268.4" cy="1916.2" r="6.4"/><circle cx="270.0" cy="1912.0" r="6.4"/><circle cx="271.6" cy="1907.1" r="6.4"/><circle cx="273.2" cy="1901.7" r="6.4"/><circle cx="274.8" cy="1896.5" r="6.4"/><circle cx="276.4" cy="1891.9" r="6.4"/><circle cx="278.0" cy="1887.8" r="6.4"/><circle cx="279.6" cy="1884.0" r="6.4"/><circle cx="281.2" cy="1880.1" r="6.4"/><circle cx="282.8" cy="1876.2" r="6.4"/><circle cx="284.4" cy="1871.9" r="6.4"/><circle cx="286.0" cy="1867.4" r="6.4"/><circle cx="287.6" cy="1862.7" r="6.4"/><circle cx="289.2" cy="1857.9" r="6.4"/><circle cx="290.8" cy="1852.9" r="6.4"/><circle cx="292.4" cy="1847.7" r="6.4"/><circle cx="294.0" cy="1842.2" r="6.4"/><circle cx="295.6" cy="1836.4" r="6.4"/><circle cx="297.2" cy="1830.7" r="6.4"/><circle cx="298.8" cy="1825.0" r="6.4"/><circle cx="300.4" cy="1819.7" r="6.4"/><circle cx="302.0" cy="1814.8" r="6.4"/><circle cx="303.6" cy="1810.2" r="6.4"/><circle cx="305.2" cy="1805.5" r="6.4"/><circle cx="306.8" cy="1800.8" r="6.4"/><circle cx="308.4" cy="1795.7" r="6.4"/><circle cx="310.0" cy="1790.4" r="6.4"/><circle cx="311.6" cy="1784.9" r="6.4"/><circle cx="313.2" cy="1779.3" r="6.4"/><circle cx="314.8" cy="1773.5" r="6.4"/><circle cx="316.4" cy="1767.5" r="6.4"/><circle cx="318.0" cy="1761.0" r="6.4"/><circle cx="319.6" cy="1754.2" r="6.4"/><circle cx="321.2" cy="1747.5" r="6.4"/><circle cx="322.8" cy="1741.2" r="6.4"/><circle cx="324.4" cy="1735.7" r="6.4"/><circle cx="326.0" cy="1730.5" r="6.4"/><circle cx="327.6" cy="1725.6" r="6.4"/><circle cx="329.2" cy="1721.5" r="6.4"/><circle cx="330.8" cy="1718.4" r="6.4"/><circle cx="332.4" cy="1716.7" r="6.4"/><circle cx="334.0" cy="1716.5" r="6.4"/><circle cx="335.6" cy="1717.4" r="6.4"/><circle cx="337.2" cy="1719.3" r="6.4"/><circle cx="338.8" cy="1722.2" r="6.4"/><circle cx="340.4" cy="1726.0" r="6.4"/><circle cx="342.0" cy="1731.0" r="6.4"/><circle cx="343.6" cy="1737.1" r="6.4"/><circle cx="345.2" cy="1744.0" r="6.4"/><circle cx="346.8" cy="1751.3" r="6.4"/><circle cx="348.4" cy="1758.9" r="6.4"/><circle cx="350.0" cy="1767.1" r="6.4"/><circle cx="351.6" cy="1775.8" r="6.4"/><circle cx="353.2" cy="1784.8" r="6.4"/><circle cx="354.8" cy="1794.1" r="6.4"/><circle cx="356.4" cy="1803.3" r="6.4"/><circle cx="358.0" cy="1812.9" r="6.4"/><circle cx="359.6" cy="1822.8" r="6.4"/><circle cx="361.2" cy="1832.6" r="6.4"/><circle cx="362.8" cy="1842.2" r="6.4"/><circle cx="364.4" cy="1851.2" r="6.4"/><circle cx="366.0" cy="1859.8" r="6.4"/><circle cx="367.6" cy="1868.2" r="6.4"/><circle cx="369.2" cy="1876.2" r="6.4"/><circle cx="370.8" cy="1883.7" r="6.4"/><circle cx="372.4" cy="1890.7" r="6.4"/><circle cx="374.0" cy="1897.1" r="6.4"/><circle cx="375.6" cy="1903.1" r="6.4"/><circle cx="377.2" cy="1908.6" r="6.4"/><circle cx="378.8" cy="1913.6" r="6.4"/><circle cx="380.4" cy="1918.1" r="6.4"/><circle cx="382.0" cy="1922.5" r="6.4"/><circle cx="383.6" cy="1926.3" r="6.4"/><circle cx="385.2" cy="1929.3" r="6.4"/><circle cx="386.8" cy="1931.6" r="6.4"/><circle cx="388.4" cy="1933.4" r="6.4"/><circle cx="390.0" cy="1934.9" r="6.4"/><circle cx="391.6" cy="1936.2" r="6.4"/><circle cx="393.2" cy="1937.3" r="6.4"/><circle cx="394.8" cy="1938.3" r="6.4"/><circle cx="396.4" cy="1939.3" r="6.4"/><circle cx="398.0" cy="1940.1" r="6.4"/><circle cx="399.6" cy="1941.0" r="6.4"/><circle cx="401.2" cy="1941.7" r="6.4"/><circle cx="402.8" cy="1942.5" r="6.4"/><circle cx="404.4" cy="1943.2" r="6.4"/><circle cx="406.0" cy="1943.8" r="6.4"/><circle cx="407.6" cy="1944.4" r="6.4"/><circle cx="409.2" cy="1944.9" r="6.4"/><circle cx="410.8" cy="1945.4" r="6.4"/><circle cx="412.4" cy="1945.8" r="6.4"/><circle cx="414.0" cy="1946.1" r="6.4"/><circle cx="415.6" cy="1946.4" r="6.4"/><circle cx="417.2" cy="1946.6" r="6.4"/><circle cx="418.8" cy="1946.8" r="6.4"/><circle cx="420.4" cy="1947.0" r="6.4"/><circle cx="422.0" cy="1947.2" r="6.4"/><circle cx="423.6" cy="1947.4" r="6.4"/><circle cx="425.2" cy="1947.5" r="6.4"/><circle cx="426.8" cy="1947.7" r="6.4"/><circle cx="428.4" cy="1947.8" r="6.4"/><circle cx="430.0" cy="1947.9" r="6.4"/><circle cx="431.6" cy="1947.9" r="6.4"/><circle cx="433.2" cy="1948.0" r="6.4"/><circle cx="434.8" cy="1948.1" r="6.4"/><circle cx="436.4" cy="1948.1" r="6.4"/><circle cx="438.0" cy="1948.1" r="6.4"/><circle cx="439.6" cy="1948.1" r="6.4"/><circle cx="441.2" cy="1948.1" r="6.4"/><circle cx="442.8" cy="1948.0" r="6.4"/><circle cx="444.4" cy="1948.0" r="6.4"/><circle cx="446.0" cy="1947.9" r="6.4"/><circle cx="447.6" cy="1947.9" r="6.4"/><circle cx="449.2" cy="1947.8" r="6.4"/><circle cx="450.8" cy="1947.7" r="6.4"/><circle cx="452.4" cy="1947.6" r="6.4"/><circle cx="454.0" cy="1947.5" r="6.4"/><circle cx="455.6" cy="1947.4" r="6.4"/><circle cx="457.2" cy="1947.2" r="6.4"/><circle cx="458.8" cy="1947.1" r="6.4"/><circle cx="460.4" cy="1946.8" r="6.4"/><circle cx="462.0" cy="1946.6" r="6.4"/><circle cx="463.6" cy="1946.3" r="6.4"/><circle cx="465.2" cy="1945.9" r="6.4"/><circle cx="466.8" cy="1945.4" r="6.4"/><circle cx="468.4" cy="1944.8" r="6.4"/><circle cx="470.0" cy="1944.2" r="6.4"/><circle cx="471.6" cy="1943.4" r="6.4"/><circle cx="473.2" cy="1942.6" r="6.4"/><circle cx="474.8" cy="1941.6" r="6.4"/><circle cx="476.4" cy="1940.5" r="6.4"/><circle cx="478.0" cy="1939.3" r="6.4"/><circle cx="479.6" cy="1937.9" r="6.4"/><circle cx="481.2" cy="1936.3" r="6.4"/><circle cx="482.8" cy="1934.5" r="6.4"/><circle cx="484.4" cy="1932.5" r="6.4"/><circle cx="486.0" cy="1929.9" r="6.4"/><circle cx="487.6" cy="1926.6" r="6.4"/><circle cx="489.2" cy="1922.2" r="6.4"/><circle cx="490.8" cy="1917.0" r="6.4"/><circle cx="492.4" cy="1911.7" r="6.4"/><circle cx="494.0" cy="1905.8" r="6.4"/><circle cx="495.6" cy="1899.4" r="6.4"/><circle cx="497.2" cy="1892.7" r="6.4"/><circle cx="498.8" cy="1885.9" r="6.4"/><circle cx="500.4" cy="1879.4" r="6.4"/><circle cx="502.0" cy="1873.1" r="6.4"/><circle cx="503.6" cy="1866.8" r="6.4"/><circle cx="505.2" cy="1860.5" r="6.4"/><circle cx="506.8" cy="1854.0" r="6.4"/><circle cx="508.4" cy="1847.3" r="6.4"/><circle cx="510.0" cy="1840.2" r="6.4"/><circle cx="511.6" cy="1832.8" r="6.4"/><circle cx="513.2" cy="1825.5" r="6.4"/><circle cx="514.8" cy="1818.2" r="6.4"/><circle cx="516.4" cy="1811.3" r="6.4"/><circle cx="518.0" cy="1804.7" r="6.4"/><circle cx="519.6" cy="1798.3" r="6.4"/><circle cx="521.2" cy="1792.0" r="6.4"/><circle cx="522.8" cy="1785.8" r="6.4"/><circle cx="524.4" cy="1779.4" r="6.4"/><circle cx="526.0" cy="1772.9" r="6.4"/><circle cx="527.6" cy="1766.4" r="6.4"/><circle cx="529.2" cy="1759.9" r="6.4"/><circle cx="530.8" cy="1753.6" r="6.4"/><circle cx="532.4" cy="1747.5" r="6.4"/><circle cx="534.0" cy="1741.5" r="6.4"/><circle cx="535.6" cy="1735.7" r="6.4"/><circle cx="537.2" cy="1730.1" r="6.4"/><circle cx="538.8" cy="1724.7" r="6.4"/><circle cx="540.4" cy="1719.8" r="6.4"/><circle cx="542.0" cy="1714.8" r="6.4"/><circle cx="543.6" cy="1710.0" r="6.4"/><circle cx="545.2" cy="1706.0" r="6.4"/><circle cx="546.8" cy="1702.8" r="6.4"/><circle cx="548.4" cy="1700.5" r="6.4"/><circle cx="550.0" cy="1699.2" r="6.4"/><circle cx="551.6" cy="1698.5" r="6.4"/><circle cx="553.2" cy="1698.0" r="6.4"/><circle cx="554.8" cy="1697.7" r="6.4"/><circle cx="556.4" cy="1697.3" r="6.4"/><circle cx="558.0" cy="1696.6" r="6.4"/><circle cx="559.6" cy="1695.4" r="6.4"/><circle cx="561.2" cy="1693.2" r="6.4"/><circle cx="562.8" cy="1689.8" r="6.4"/><circle cx="564.4" cy="1685.4" r="6.4"/><circle cx="566.0" cy="1681.0" r="6.4"/><circle cx="567.6" cy="1677.6" r="6.4"/><circle cx="569.2" cy="1675.5" r="6.4"/><circle cx="570.8" cy="1674.0" r="6.4"/><circle cx="572.4" cy="1673.1" r="6.4"/><circle cx="574.0" cy="1672.7" r="6.4"/><circle cx="575.6" cy="1672.9" r="6.4"/><circle cx="577.2" cy="1673.9" r="6.4"/><circle cx="578.8" cy="1676.3" r="6.4"/><circle cx="580.4" cy="1679.1" r="6.4"/><circle cx="582.0" cy="1681.5" r="6.4"/><circle cx="583.6" cy="1682.8" r="6.4"/><circle cx="585.2" cy="1683.2" r="6.4"/><circle cx="586.8" cy="1683.1" r="6.4"/><circle cx="588.4" cy="1682.8" r="6.4"/><circle cx="590.0" cy="1682.3" r="6.4"/><circle cx="591.6" cy="1681.6" r="6.4"/><circle cx="593.2" cy="1680.7" r="6.4"/><circle cx="594.8" cy="1679.8" r="6.4"/><circle cx="596.4" cy="1678.7" r="6.4"/><circle cx="598.0" cy="1676.5" r="6.4"/><circle cx="599.6" cy="1673.1" r="6.4"/><circle cx="601.2" cy="1670.1" r="6.4"/><circle cx="602.8" cy="1668.8" r="6.4"/><circle cx="604.4" cy="1669.2" r="6.4"/><circle cx="606.0" cy="1671.0" r="6.4"/><circle cx="607.6" cy="1673.5" r="6.4"/><circle cx="609.2" cy="1676.4" r="6.4"/><circle cx="610.8" cy="1679.4" r="6.4"/><circle cx="612.4" cy="1682.3" r="6.4"/><circle cx="614.0" cy="1685.0" r="6.4"/><circle cx="615.6" cy="1687.2" r="6.4"/><circle cx="617.2" cy="1688.7" r="6.4"/><circle cx="618.8" cy="1688.8" r="6.4"/><circle cx="620.4" cy="1687.0" r="6.4"/><circle cx="622.0" cy="1683.4" r="6.4"/><circle cx="623.6" cy="1678.9" r="6.4"/><circle cx="625.2" cy="1674.6" r="6.4"/><circle cx="626.8" cy="1671.8" r="6.4"/><circle cx="628.4" cy="1671.0" r="6.4"/><circle cx="630.0" cy="1672.2" r="6.4"/><circle cx="631.6" cy="1674.6" r="6.4"/><circle cx="633.2" cy="1677.7" r="6.4"/><circle cx="634.8" cy="1680.8" r="6.4"/><circle cx="636.4" cy="1683.6" r="6.4"/><circle cx="638.0" cy="1685.7" r="6.4"/><circle cx="639.6" cy="1686.9" r="6.4"/><circle cx="641.2" cy="1687.1" r="6.4"/><circle cx="642.8" cy="1686.7" r="6.4"/><circle cx="644.4" cy="1686.0" r="6.4"/><circle cx="646.0" cy="1684.9" r="6.4"/><circle cx="647.6" cy="1683.7" r="6.4"/><circle cx="649.2" cy="1682.4" r="6.4"/><circle cx="650.8" cy="1681.1" r="6.4"/><circle cx="652.4" cy="1679.7" r="6.4"/><circle cx="654.0" cy="1678.4" r="6.4"/><circle cx="655.6" cy="1677.3" r="6.4"/><circle cx="657.2" cy="1676.3" r="6.4"/><circle cx="658.8" cy="1675.3" r="6.4"/><circle cx="660.4" cy="1674.4" r="6.4"/><circle cx="662.0" cy="1673.4" r="6.4"/><circle cx="663.6" cy="1672.5" r="6.4"/><circle cx="665.2" cy="1671.5" r="6.4"/><circle cx="666.8" cy="1670.5" r="6.4"/><circle cx="668.4" cy="1669.5" r="6.4"/><circle cx="670.0" cy="1668.4" r="6.4"/><circle cx="671.6" cy="1667.3" r="6.4"/><circle cx="673.2" cy="1666.0" r="6.4"/><circle cx="674.8" cy="1664.6" r="6.4"/><circle cx="676.4" cy="1663.0" r="6.4"/><circle cx="678.0" cy="1661.3" r="6.4"/><circle cx="679.6" cy="1659.7" r="6.4"/><circle cx="681.2" cy="1658.0" r="6.4"/><circle cx="682.8" cy="1656.5" r="6.4"/><circle cx="684.4" cy="1655.1" r="6.4"/><circle cx="686.0" cy="1653.9" r="6.4"/><circle cx="687.6" cy="1653.1" r="6.4"/><circle cx="689.2" cy="1652.8" r="6.4"/><circle cx="690.8" cy="1653.2" r="6.4"/><circle cx="692.4" cy="1654.0" r="6.4"/><circle cx="694.0" cy="1655.3" r="6.4"/><circle cx="695.6" cy="1656.7" r="6.4"/><circle cx="697.2" cy="1657.9" r="6.4"/><circle cx="698.8" cy="1658.8" r="6.4"/><circle cx="700.4" cy="1659.0" r="6.4"/><circle cx="702.0" cy="1658.6" r="6.4"/><circle cx="703.6" cy="1657.7" r="6.4"/><circle cx="705.2" cy="1656.6" r="6.4"/><circle cx="706.8" cy="1655.5" r="6.4"/><circle cx="708.4" cy="1654.3" r="6.4"/><circle cx="710.0" cy="1653.4" r="6.4"/><circle cx="711.6" cy="1653.0" r="6.4"/><circle cx="713.2" cy="1653.4" r="6.4"/><circle cx="714.8" cy="1655.0" r="6.4"/><circle cx="716.4" cy="1657.4" r="6.4"/><circle cx="718.0" cy="1659.5" r="6.4"/><circle cx="719.6" cy="1660.8" r="6.4"/><circle cx="721.2" cy="1661.6" r="6.4"/><circle cx="722.8" cy="1662.4" r="6.4"/><circle cx="724.4" cy="1663.2" r="6.4"/><circle cx="726.0" cy="1664.0" r="6.4"/><circle cx="727.6" cy="1664.6" r="6.4"/><circle cx="729.2" cy="1665.2" r="6.4"/><circle cx="730.8" cy="1665.6" r="6.4"/><circle cx="732.4" cy="1665.8" r="6.4"/><circle cx="734.0" cy="1665.7" r="6.4"/><circle cx="735.6" cy="1665.2" r="6.4"/><circle cx="737.2" cy="1664.0" r="6.4"/><circle cx="738.8" cy="1661.8" r="6.4"/><circle cx="740.4" cy="1658.9" r="6.4"/><circle cx="742.0" cy="1655.3" r="6.4"/><circle cx="743.6" cy="1651.2" r="6.4"/><circle cx="745.2" cy="1646.9" r="6.4"/></g>
<g fill="#fff" stroke="#1a00ff" stroke-width="2.5"><circle cx="148.0" cy="2282.0" r="6.4"/><circle cx="149.6" cy="2282.7" r="6.4"/><circle cx="151.2" cy="2283.5" r="6.4"/><circle cx="152.8" cy="2284.3" r="6.4"/><circle cx="154.4" cy="2285.0" r="6.4"/><circle cx="156.0" cy="2285.5" r="6.4"/><circle cx="157.6" cy="2285.9" r="6.4"/><circle cx="159.2" cy="2286.1" r="6.4"/><circle cx="160.8" cy="2285.8" r="6.4"/><circle cx="162.4" cy="2285.2" r="6.4"/><circle cx="164.0" cy="2284.2" r="6.4"/><circle cx="165.6" cy="2283.0" r="6.4"/><circle cx="167.2" cy="2281.7" r="6.4"/><circle cx="168.8" cy="2280.3" r="6.4"/><circle cx="170.4" cy="2279.1" r="6.4"/><circle cx="172.0" cy="2278.0" r="6.4"/><circle cx="173.6" cy="2276.9" r="6.4"/><circle cx="175.2" cy="2275.8" r="6.4"/><circle cx="176.8" cy="2274.6" r="6.4"/><circle cx="178.4" cy="2273.5" r="6.4"/><circle cx="180.0" cy="2272.4" r="6.4"/><circle cx="181.6" cy="2271.5" r="6.4"/><circle cx="183.2" cy="2270.7" r="6.4"/><circle cx="184.8" cy="2270.1" r="6.4"/><circle cx="186.4" cy="2270.0" r="6.4"/><circle cx="188.0" cy="2270.5" r="6.4"/><circle cx="189.6" cy="2271.7" r="6.4"/><circle cx="191.2" cy="2273.3" r="6.4"/><circle cx="192.8" cy="2275.2" r="6.4"/><circle cx="194.4" cy="2276.8" r="6.4"/><circle cx="196.0" cy="2278.0" r="6.4"/><circle cx="197.6" cy="2278.9" r="6.4"/><circle cx="199.2" cy="2279.7" r="6.4"/><circle cx="200.8" cy="2280.4" r="6.4"/><circle cx="202.4" cy="2281.0" r="6.4"/><circle cx="204.0" cy="2281.5" r="6.4"/><circle cx="205.6" cy="2281.8" r="6.4"/><circle cx="207.2" cy="2282.0" r="6.4"/><circle cx="208.8" cy="2282.0" r="6.4"/><circle cx="210.4" cy="2281.8" r="6.4"/><circle cx="212.0" cy="2281.6" r="6.4"/><circle cx="213.6" cy="2281.3" r="6.4"/><circle cx="215.2" cy="2280.9" r="6.4"/><circle cx="216.8" cy="2280.5" r="6.4"/><circle cx="218.4" cy="2280.0" r="6.4"/><circle cx="220.0" cy="2279.4" r="6.4"/><circle cx="221.6" cy="2278.9" r="6.4"/><circle cx="223.2" cy="2278.3" r="6.4"/><circle cx="224.8" cy="2277.7" r="6.4"/><circle cx="226.4" cy="2277.0" r="6.4"/><circle cx="228.0" cy="2276.2" r="6.4"/><circle cx="229.6" cy="2275.4" r="6.4"/><circle cx="231.2" cy="2274.6" r="6.4"/><circle cx="232.8" cy="2273.7" r="6.4"/><circle cx="234.4" cy="2272.8" r="6.4"/><circle cx="236.0" cy="2272.0" r="6.4"/><circle cx="237.6" cy="2271.1" r="6.4"/><circle cx="239.2" cy="2270.4" r="6.4"/><circle cx="240.8" cy="2269.7" r="6.4"/><circle cx="242.4" cy="2269.0" r="6.4"/><circle cx="244.0" cy="2268.4" r="6.4"/><circle cx="245.6" cy="2267.8" r="6.4"/><circle cx="247.2" cy="2267.2" r="6.4"/><circle cx="248.8" cy="2266.7" r="6.4"/><circle cx="250.4" cy="2266.1" r="6.4"/><circle cx="252.0" cy="2265.6" r="6.4"/><circle cx="253.6" cy="2265.0" r="6.4"/><circle cx="255.2" cy="2264.3" r="6.4"/><circle cx="256.8" cy="2263.7" r="6.4"/><circle cx="258.4" cy="2262.9" r="6.4"/><circle cx="260.0" cy="2262.2" r="6.4"/><circle cx="261.6" cy="2261.4" r="6.4"/><circle cx="263.2" cy="2260.6" r="6.4"/><circle cx="264.8" cy="2259.8" r="6.4"/><circle cx="266.4" cy="2258.9" r="6.4"/><circle cx="268.0" cy="2258.0" r="6.4"/><circle cx="269.6" cy="2257.0" r="6.4"/><circle cx="271.2" cy="2255.8" r="6.4"/><circle cx="272.8" cy="2254.5" r="6.4"/><circle cx="274.4" cy="2253.3" r="6.4"/><circle cx="276.0" cy="2252.1" r="6.4"/><circle cx="277.6" cy="2251.0" r="6.4"/><circle cx="279.2" cy="2250.2" r="6.4"/><circle cx="280.8" cy="2250.0" r="6.4"/><circle cx="282.4" cy="2250.9" r="6.4"/><circle cx="284.0" cy="2252.7" r="6.4"/><circle cx="285.6" cy="2254.4" r="6.4"/><circle cx="287.2" cy="2254.8" r="6.4"/><circle cx="288.8" cy="2252.2" r="6.4"/><circle cx="290.4" cy="2246.0" r="6.4"/><circle cx="292.0" cy="2237.4" r="6.4"/><circle cx="293.6" cy="2229.5" r="6.4"/><circle cx="295.2" cy="2223.9" r="6.4"/><circle cx="296.8" cy="2219.1" r="6.4"/><circle cx="298.4" cy="2215.1" r="6.4"/><circle cx="300.0" cy="2212.0" r="6.4"/><circle cx="301.6" cy="2210.0" r="6.4"/><circle cx="303.2" cy="2208.9" r="6.4"/><circle cx="304.8" cy="2207.9" r="6.4"/><circle cx="306.4" cy="2206.5" r="6.4"/><circle cx="308.0" cy="2204.0" r="6.4"/><circle cx="309.6" cy="2200.2" r="6.4"/><circle cx="311.2" cy="2195.4" r="6.4"/><circle cx="312.8" cy="2190.1" r="6.4"/><circle cx="314.4" cy="2184.8" r="6.4"/><circle cx="316.0" cy="2180.0" r="6.4"/><circle cx="317.6" cy="2175.7" r="6.4"/><circle cx="319.2" cy="2171.7" r="6.4"/><circle cx="320.8" cy="2167.8" r="6.4"/><circle cx="322.4" cy="2163.9" r="6.4"/><circle cx="324.0" cy="2160.0" r="6.4"/><circle cx="325.6" cy="2155.8" r="6.4"/><circle cx="327.2" cy="2151.5" r="6.4"/><circle cx="328.8" cy="2147.3" r="6.4"/><circle cx="330.4" cy="2143.4" r="6.4"/><circle cx="332.0" cy="2140.0" r="6.4"/><circle cx="333.6" cy="2137.3" r="6.4"/><circle cx="335.2" cy="2135.2" r="6.4"/><circle cx="336.8" cy="2133.4" r="6.4"/><circle cx="338.4" cy="2131.7" r="6.4"/><circle cx="340.0" cy="2130.0" r="6.4"/><circle cx="341.6" cy="2128.3" r="6.4"/><circle cx="343.2" cy="2126.7" r="6.4"/><circle cx="344.8" cy="2125.1" r="6.4"/><circle cx="346.4" cy="2123.6" r="6.4"/><circle cx="348.0" cy="2122.0" r="6.4"/><circle cx="349.6" cy="2120.1" r="6.4"/><circle cx="351.2" cy="2118.0" r="6.4"/><circle cx="352.8" cy="2115.8" r="6.4"/><circle cx="354.4" cy="2114.0" r="6.4"/><circle cx="356.0" cy="2112.6" r="6.4"/><circle cx="357.6" cy="2112.0" r="6.4"/><circle cx="359.2" cy="2112.4" r="6.4"/><circle cx="360.8" cy="2113.5" r="6.4"/><circle cx="362.4" cy="2115.2" r="6.4"/><circle cx="364.0" cy="2117.4" r="6.4"/><circle cx="365.6" cy="2119.9" r="6.4"/><circle cx="367.2" cy="2122.6" r="6.4"/><circle cx="368.8" cy="2125.5" r="6.4"/><circle cx="370.4" cy="2128.6" r="6.4"/><circle cx="372.0" cy="2132.2" r="6.4"/><circle cx="373.6" cy="2136.4" r="6.4"/><circle cx="375.2" cy="2141.3" r="6.4"/><circle cx="376.8" cy="2146.9" r="6.4"/><circle cx="378.4" cy="2153.5" r="6.4"/><circle cx="380.0" cy="2160.7" r="6.4"/><circle cx="381.6" cy="2168.4" r="6.4"/><circle cx="383.2" cy="2176.2" r="6.4"/><circle cx="384.8" cy="2183.9" r="6.4"/><circle cx="386.4" cy="2192.0" r="6.4"/><circle cx="388.0" cy="2200.2" r="6.4"/><circle cx="389.6" cy="2208.5" r="6.4"/><circle cx="391.2" cy="2216.3" r="6.4"/><circle cx="392.8" cy="2223.6" r="6.4"/><circle cx="394.4" cy="2230.4" r="6.4"/><circle cx="396.0" cy="2237.0" r="6.4"/><circle cx="397.6" cy="2243.2" r="6.4"/><circle cx="399.2" cy="2249.2" r="6.4"/><circle cx="400.8" cy="2254.8" r="6.4"/><circle cx="402.4" cy="2260.5" r="6.4"/><circle cx="404.0" cy="2265.8" r="6.4"/><circle cx="405.6" cy="2270.4" r="6.4"/><circle cx="407.2" cy="2274.3" r="6.4"/><circle cx="408.8" cy="2277.5" r="6.4"/><circle cx="410.4" cy="2280.4" r="6.4"/><circle cx="412.0" cy="2282.9" r="6.4"/><circle cx="413.6" cy="2285.1" r="6.4"/><circle cx="415.2" cy="2287.1" r="6.4"/><circle cx="416.8" cy="2288.9" r="6.4"/><circle cx="418.4" cy="2290.5" r="6.4"/><circle cx="420.0" cy="2292.0" r="6.4"/><circle cx="421.6" cy="2293.3" r="6.4"/><circle cx="423.2" cy="2294.4" r="6.4"/><circle cx="424.8" cy="2295.4" r="6.4"/><circle cx="426.4" cy="2296.3" r="6.4"/><circle cx="428.0" cy="2297.1" r="6.4"/><circle cx="429.6" cy="2297.8" r="6.4"/><circle cx="431.2" cy="2298.4" r="6.4"/><circle cx="432.8" cy="2299.0" r="6.4"/><circle cx="434.4" cy="2299.5" r="6.4"/><circle cx="436.0" cy="2300.0" r="6.4"/><circle cx="437.6" cy="2300.5" r="6.4"/><circle cx="439.2" cy="2300.9" r="6.4"/><circle cx="440.8" cy="2301.3" r="6.4"/><circle cx="442.4" cy="2301.6" r="6.4"/><circle cx="444.0" cy="2302.0" r="6.4"/><circle cx="445.6" cy="2302.3" r="6.4"/><circle cx="447.2" cy="2302.6" r="6.4"/><circle cx="448.8" cy="2302.8" r="6.4"/><circle cx="450.4" cy="2303.1" r="6.4"/><circle cx="452.0" cy="2303.3" r="6.4"/><circle cx="453.6" cy="2303.5" r="6.4"/><circle cx="455.2" cy="2303.7" r="6.4"/><circle cx="456.8" cy="2303.8" r="6.4"/><circle cx="458.4" cy="2303.9" r="6.4"/><circle cx="460.0" cy="2304.0" r="6.4"/><circle cx="461.6" cy="2304.1" r="6.4"/><circle cx="463.2" cy="2304.1" r="6.4"/><circle cx="464.8" cy="2304.1" r="6.4"/><circle cx="466.4" cy="2304.1" r="6.4"/><circle cx="468.0" cy="2304.1" r="6.4"/><circle cx="469.6" cy="2304.0" r="6.4"/><circle cx="471.2" cy="2303.9" r="6.4"/><circle cx="472.8" cy="2303.8" r="6.4"/><circle cx="474.4" cy="2303.7" r="6.4"/><circle cx="476.0" cy="2303.5" r="6.4"/><circle cx="477.6" cy="2303.3" r="6.4"/><circle cx="479.2" cy="2303.0" r="6.4"/><circle cx="480.8" cy="2302.7" r="6.4"/><circle cx="482.4" cy="2302.4" r="6.4"/><circle cx="484.0" cy="2302.0" r="6.4"/><circle cx="485.6" cy="2301.6" r="6.4"/><circle cx="487.2" cy="2301.1" r="6.4"/><circle cx="488.8" cy="2300.6" r="6.4"/><circle cx="490.4" cy="2300.1" r="6.4"/><circle cx="492.0" cy="2299.6" r="6.4"/><circle cx="493.6" cy="2299.0" r="6.4"/><circle cx="495.2" cy="2298.4" r="6.4"/><circle cx="496.8" cy="2297.8" r="6.4"/><circle cx="498.4" cy="2297.1" r="6.4"/><circle cx="500.0" cy="2296.3" r="6.4"/><circle cx="501.6" cy="2295.6" r="6.4"/><circle cx="503.2" cy="2294.8" r="6.4"/><circle cx="504.8" cy="2293.9" r="6.4"/><circle cx="506.4" cy="2293.0" r="6.4"/><circle cx="508.0" cy="2292.0" r="6.4"/><circle cx="509.6" cy="2290.9" r="6.4"/><circle cx="511.2" cy="2289.6" r="6.4"/><circle cx="512.8" cy="2288.2" r="6.4"/><circle cx="514.4" cy="2286.6" r="6.4"/><circle cx="516.0" cy="2284.9" r="6.4"/><circle cx="517.6" cy="2283.1" r="6.4"/><circle cx="519.2" cy="2281.3" r="6.4"/><circle cx="520.8" cy="2279.4" r="6.4"/><circle cx="522.4" cy="2277.7" r="6.4"/><circle cx="524.0" cy="2276.0" r="6.4"/><circle cx="525.6" cy="2274.4" r="6.4"/><circle cx="527.2" cy="2272.9" r="6.4"/><circle cx="528.8" cy="2271.3" r="6.4"/><circle cx="530.4" cy="2269.8" r="6.4"/><circle cx="532.0" cy="2268.3" r="6.4"/><circle cx="533.6" cy="2266.7" r="6.4"/><circle cx="535.2" cy="2265.1" r="6.4"/><circle cx="536.8" cy="2263.5" r="6.4"/><circle cx="538.4" cy="2261.8" r="6.4"/><circle cx="540.0" cy="2260.0" r="6.4"/><circle cx="541.6" cy="2258.3" r="6.4"/><circle cx="543.2" cy="2256.6" r="6.4"/><circle cx="544.8" cy="2254.9" r="6.4"/><circle cx="546.4" cy="2253.3" r="6.4"/><circle cx="548.0" cy="2251.5" r="6.4"/><circle cx="549.6" cy="2249.7" r="6.4"/><circle cx="551.2" cy="2247.7" r="6.4"/><circle cx="552.8" cy="2245.5" r="6.4"/><circle cx="554.4" cy="2242.9" r="6.4"/><circle cx="556.0" cy="2240.0" r="6.4"/><circle cx="557.6" cy="2236.5" r="6.4"/><circle cx="559.2" cy="2232.4" r="6.4"/><circle cx="560.8" cy="2227.8" r="6.4"/><circle cx="562.4" cy="2222.8" r="6.4"/><circle cx="564.0" cy="2217.5" r="6.4"/><circle cx="565.6" cy="2212.0" r="6.4"/><circle cx="567.2" cy="2206.6" r="6.4"/><circle cx="568.8" cy="2201.4" r="6.4"/><circle cx="570.4" cy="2196.2" r="6.4"/><circle cx="572.0" cy="2190.9" r="6.4"/><circle cx="573.6" cy="2185.2" r="6.4"/><circle cx="575.2" cy="2179.2" r="6.4"/><circle cx="576.8" cy="2172.7" r="6.4"/><circle cx="578.4" cy="2165.8" r="6.4"/><circle cx="580.0" cy="2158.5" r="6.4"/><circle cx="581.6" cy="2151.1" r="6.4"/><circle cx="583.2" cy="2143.6" r="6.4"/><circle cx="584.8" cy="2136.4" r="6.4"/><circle cx="586.4" cy="2128.9" r="6.4"/><circle cx="588.0" cy="2121.5" r="6.4"/><circle cx="589.6" cy="2114.2" r="6.4"/><circle cx="591.2" cy="2107.3" r="6.4"/><circle cx="592.8" cy="2100.8" r="6.4"/><circle cx="594.4" cy="2094.7" r="6.4"/><circle cx="596.0" cy="2088.9" r="6.4"/><circle cx="597.6" cy="2083.4" r="6.4"/><circle cx="599.2" cy="2078.4" r="6.4"/><circle cx="600.8" cy="2073.7" r="6.4"/><circle cx="602.4" cy="2069.1" r="6.4"/><circle cx="604.0" cy="2065.0" r="6.4"/><circle cx="605.6" cy="2061.6" r="6.4"/><circle cx="607.2" cy="2059.0" r="6.4"/><circle cx="608.8" cy="2057.1" r="6.4"/><circle cx="610.4" cy="2055.9" r="6.4"/><circle cx="612.0" cy="2055.1" r="6.4"/><circle cx="613.6" cy="2054.4" r="6.4"/><circle cx="615.2" cy="2053.9" r="6.4"/><circle cx="616.8" cy="2053.4" r="6.4"/><circle cx="618.4" cy="2052.8" r="6.4"/><circle cx="620.0" cy="2052.0" r="6.4"/><circle cx="621.6" cy="2051.0" r="6.4"/><circle cx="623.2" cy="2049.9" r="6.4"/><circle cx="624.8" cy="2048.8" r="6.4"/><circle cx="626.4" cy="2047.7" r="6.4"/><circle cx="628.0" cy="2046.5" r="6.4"/><circle cx="629.6" cy="2045.5" r="6.4"/><circle cx="631.2" cy="2044.5" r="6.4"/><circle cx="632.8" cy="2043.5" r="6.4"/><circle cx="634.4" cy="2042.5" r="6.4"/><circle cx="636.0" cy="2041.5" r="6.4"/><circle cx="637.6" cy="2040.5" r="6.4"/><circle cx="639.2" cy="2039.5" r="6.4"/><circle cx="640.8" cy="2038.5" r="6.4"/><circle cx="642.4" cy="2037.7" r="6.4"/><circle cx="644.0" cy="2037.0" r="6.4"/><circle cx="645.6" cy="2036.4" r="6.4"/><circle cx="647.2" cy="2036.1" r="6.4"/><circle cx="648.8" cy="2036.1" r="6.4"/><circle cx="650.4" cy="2036.7" r="6.4"/><circle cx="652.0" cy="2037.9" r="6.4"/><circle cx="653.6" cy="2039.4" r="6.4"/><circle cx="655.2" cy="2041.1" r="6.4"/><circle cx="656.8" cy="2042.7" r="6.4"/><circle cx="658.4" cy="2043.7" r="6.4"/><circle cx="660.0" cy="2044.0" r="6.4"/><circle cx="661.6" cy="2043.6" r="6.4"/><circle cx="663.2" cy="2042.7" r="6.4"/><circle cx="664.8" cy="2041.3" r="6.4"/><circle cx="666.4" cy="2039.7" r="6.4"/><circle cx="668.0" cy="2038.0" r="6.4"/><circle cx="669.6" cy="2036.3" r="6.4"/><circle cx="671.2" cy="2034.7" r="6.4"/><circle cx="672.8" cy="2033.3" r="6.4"/><circle cx="674.4" cy="2031.9" r="6.4"/><circle cx="676.0" cy="2030.6" r="6.4"/><circle cx="677.6" cy="2029.2" r="6.4"/><circle cx="679.2" cy="2027.8" r="6.4"/><circle cx="680.8" cy="2026.4" r="6.4"/><circle cx="682.4" cy="2025.0" r="6.4"/><circle cx="684.0" cy="2023.6" r="6.4"/><circle cx="685.6" cy="2022.2" r="6.4"/><circle cx="687.2" cy="2020.7" r="6.4"/><circle cx="688.8" cy="2019.2" r="6.4"/><circle cx="690.4" cy="2017.3" r="6.4"/><circle cx="692.0" cy="2015.0" r="6.4"/><circle cx="693.6" cy="2013.0" r="6.4"/><circle cx="695.2" cy="2012.1" r="6.4"/><circle cx="696.8" cy="2012.1" r="6.4"/><circle cx="698.4" cy="2012.8" r="6.4"/><circle cx="700.0" cy="2014.0" r="6.4"/><circle cx="701.6" cy="2015.3" r="6.4"/><circle cx="703.2" cy="2016.7" r="6.4"/><circle cx="704.8" cy="2018.0" r="6.4"/><circle cx="706.4" cy="2019.2" r="6.4"/><circle cx="708.0" cy="2020.0" r="6.4"/><circle cx="709.6" cy="2020.6" r="6.4"/><circle cx="711.2" cy="2021.1" r="6.4"/><circle cx="712.8" cy="2021.5" r="6.4"/><circle cx="714.4" cy="2021.9" r="6.4"/><circle cx="716.0" cy="2022.2" r="6.4"/><circle cx="717.6" cy="2022.6" r="6.4"/><circle cx="719.2" cy="2022.9" r="6.4"/><circle cx="720.8" cy="2023.2" r="6.4"/><circle cx="722.4" cy="2023.6" r="6.4"/><circle cx="724.0" cy="2024.0" r="6.4"/><circle cx="725.6" cy="2024.6" r="6.4"/><circle cx="727.2" cy="2025.6" r="6.4"/><circle cx="728.8" cy="2026.7" r="6.4"/><circle cx="730.4" cy="2027.8" r="6.4"/><circle cx="732.0" cy="2028.6" r="6.4"/><circle cx="733.6" cy="2029.0" r="6.4"/><circle cx="735.2" cy="2028.6" r="6.4"/><circle cx="736.8" cy="2027.1" r="6.4"/><circle cx="738.4" cy="2024.4" r="6.4"/><circle cx="740.0" cy="2020.8" r="6.4"/><circle cx="741.6" cy="2016.7" r="6.4"/><circle cx="743.2" cy="2012.1" r="6.4"/><circle cx="744.8" cy="2007.3" r="6.4"/></g>
</g>
<rect x="146.6" y="916" width="601" height="1425" fill="none" stroke="#000" stroke-width="2.0"/>
<line x1="146.6" y1="1272.7" x2="747.6" y2="1272.7" stroke="#222" stroke-width="2.0"/>
<line x1="146.6" y1="1628.2" x2="747.6" y2="1628.2" stroke="#222" stroke-width="2.0"/>
<line x1="146.6" y1="1984.5" x2="747.6" y2="1984.5" stroke="#222" stroke-width="2.0"/>
<line x1="146.6" y1="1243" x2="154.6" y2="1243" stroke="#000" stroke-width="1.8"/>
<line x1="146.6" y1="1168.8" x2="150.6" y2="1168.8" stroke="#000" stroke-width="1.8"/>
<line x1="146.6" y1="1094.7" x2="154.6" y2="1094.7" stroke="#000" stroke-width="1.8"/>
<line x1="146.6" y1="1020.5" x2="150.6" y2="1020.5" stroke="#000" stroke-width="1.8"/>
<line x1="146.6" y1="946.3" x2="154.6" y2="946.3" stroke="#000" stroke-width="1.8"/>
<text x="74.2" y="1257.0" font-size="45.5" textLength="61.9" lengthAdjust="spacingAndGlyphs" font-family='"Liberation Sans", Arial, sans-serif' fill="#000">0.0</text>
<text x="74.3" y="1108.7" font-size="45.5" textLength="61.9" lengthAdjust="spacingAndGlyphs" font-family='"Liberation Sans", Arial, sans-serif' fill="#000">0.5</text>
<text x="74.2" y="960.3" font-size="45.5" textLength="61.9" lengthAdjust="spacingAndGlyphs" font-family='"Liberation Sans", Arial, sans-serif' fill="#000">1.0</text>
<line x1="146.6" y1="1599.2" x2="154.6" y2="1599.2" stroke="#000" stroke-width="1.8"/>
<line x1="146.6" y1="1525" x2="150.6" y2="1525" stroke="#000" stroke-width="1.8"/>
<line x1="146.6" y1="1450.9" x2="154.6" y2="1450.9" stroke="#000" stroke-width="1.8"/>
<line x1="146.6" y1="1376.7" x2="150.6" y2="1376.7" stroke="#000" stroke-width="1.8"/>
<line x1="146.6" y1="1302.5" x2="154.6" y2="1302.5" stroke="#000" stroke-width="1.8"/>
<text x="74.2" y="1613.2" font-size="45.5" textLength="61.9" lengthAdjust="spacingAndGlyphs" font-family='"Liberation Sans", Arial, sans-serif' fill="#000">0.0</text>
<text x="74.3" y="1464.9" font-size="45.5" textLength="61.9" lengthAdjust="spacingAndGlyphs" font-family='"Liberation Sans", Arial, sans-serif' fill="#000">0.5</text>
<text x="74.2" y="1316.5" font-size="45.5" textLength="61.9" lengthAdjust="spacingAndGlyphs" font-family='"Liberation Sans", Arial, sans-serif' fill="#000">1.0</text>
<line x1="146.6" y1="1955.4" x2="154.6" y2="1955.4" stroke="#000" stroke-width="1.8"/>
<line x1="146.6" y1="1881.2" x2="150.6" y2="1881.2" stroke="#000" stroke-width="1.8"/>
<line x1="146.6" y1="1807.1" x2="154.6" y2="1807.1" stroke="#000" stroke-width="1.8"/>
<line x1="146.6" y1="1732.9" x2="150.6" y2="1732.9" stroke="#000" stroke-width="1.8"/>
<line x1="146.6" y1="1658.7" x2="154.6" y2="1658.7" stroke="#000" stroke-width="1.8"/>
<text x="74.2" y="1969.4" font-size="45.5" textLength="61.9" lengthAdjust="spacingAndGlyphs" font-family='"Liberation Sans", Arial, sans-serif' fill="#000">0.0</text>
<text x="74.3" y="1821.1" font-size="45.5" textLength="61.9" lengthAdjust="spacingAndGlyphs" font-family='"Liberation Sans", Arial, sans-serif' fill="#000">0.5</text>
<text x="74.2" y="1672.7" font-size="45.5" textLength="61.9" lengthAdjust="spacingAndGlyphs" font-family='"Liberation Sans", Arial, sans-serif' fill="#000">1.0</text>
<line x1="146.6" y1="2311.2" x2="154.6" y2="2311.2" stroke="#000" stroke-width="1.8"/>
<line x1="146.6" y1="2237" x2="150.6" y2="2237" stroke="#000" stroke-width="1.8"/>
<line x1="146.6" y1="2162.8" x2="154.6" y2="2162.8" stroke="#000" stroke-width="1.8"/>
<line x1="146.6" y1="2088.7" x2="150.6" y2="2088.7" stroke="#000" stroke-width="1.8"/>
<line x1="146.6" y1="2014.5" x2="154.6" y2="2014.5" stroke="#000" stroke-width="1.8"/>
<text x="74.2" y="2325.2" font-size="45.5" textLength="61.9" lengthAdjust="spacingAndGlyphs" font-family='"Liberation Sans", Arial, sans-serif' fill="#000">0.0</text>
<text x="74.3" y="2176.8" font-size="45.5" textLength="61.9" lengthAdjust="spacingAndGlyphs" font-family='"Liberation Sans", Arial, sans-serif' fill="#000">0.5</text>
<text x="74.2" y="2028.5" font-size="45.5" textLength="61.9" lengthAdjust="spacingAndGlyphs" font-family='"Liberation Sans", Arial, sans-serif' fill="#000">1.0</text>
<line x1="247.2" y1="2341" x2="247.2" y2="2333" stroke="#000" stroke-width="1.8"/>
<line x1="347.4" y1="2341" x2="347.4" y2="2337" stroke="#000" stroke-width="1.8"/>
<line x1="447.6" y1="2341" x2="447.6" y2="2333" stroke="#000" stroke-width="1.8"/>
<line x1="547.8" y1="2341" x2="547.8" y2="2337" stroke="#000" stroke-width="1.8"/>
<line x1="648" y1="2341" x2="648" y2="2333" stroke="#000" stroke-width="1.8"/>
<text x="196.9" y="2386.2" font-size="45.5" textLength="99.0" lengthAdjust="spacingAndGlyphs" font-family='"Liberation Sans", Arial, sans-serif' fill="#000">1000</text>
<text x="397.3" y="2386.2" font-size="45.5" textLength="99.0" lengthAdjust="spacingAndGlyphs" font-family='"Liberation Sans", Arial, sans-serif' fill="#000">1200</text>
<text x="597.7" y="2386.2" font-size="45.5" textLength="99.0" lengthAdjust="spacingAndGlyphs" font-family='"Liberation Sans", Arial, sans-serif' fill="#000">1400</text>
<text x="223.1" y="2468.0" font-size="61.5" textLength="452.8" lengthAdjust="spacingAndGlyphs" font-family='"Liberation Sans", Arial, sans-serif' fill="#000">Wavelength (nm)</text>
<text transform="translate(45.2,1645.2) rotate(-90)" x="0" y="0" font-size="62.0" textLength="376.2" lengthAdjust="spacingAndGlyphs" font-family='"Liberation Sans", Arial, sans-serif'>Transmittance</text>
<text x="22.2" y="812.0" font-size="42.5" textLength="50.3" lengthAdjust="spacingAndGlyphs" font-family='"Liberation Sans", Arial, sans-serif' fill="#000">(c)</text>
<text x="88.3" y="853.9" font-size="46.0" textLength="692.9" lengthAdjust="spacingAndGlyphs" font-family='"Liberation Sans", Arial, sans-serif' fill="#000">Misaligned 2 Layer Metasurfaces</text>
<text x="323.9" y="966.2" font-size="48.5" textLength="29.3" lengthAdjust="spacingAndGlyphs" font-family='"Liberation Serif", "DejaVu Serif", serif' fill="#000" stroke="#000" stroke-width="0.4">Δ</text>
<text x="368.2" y="967.7" font-size="45.0" textLength="31.2" lengthAdjust="spacingAndGlyphs" font-family='"Liberation Serif", "DejaVu Serif", serif' fill="#000" stroke="#000" stroke-width="0.4">≈</text>
<text x="414.8" y="966.2" font-size="47.5" textLength="76.9" lengthAdjust="spacingAndGlyphs" font-family='"Liberation Serif", "DejaVu Serif", serif' fill="#000" stroke="#000" stroke-width="0.4">250</text>
<text x="504.5" y="966.2" font-size="47.5" textLength="62.2" lengthAdjust="spacingAndGlyphs" font-family='"Liberation Serif", "DejaVu Serif", serif' fill="#000" stroke="#000" stroke-width="0.4">nm</text>
<text x="323.9" y="1324.0" font-size="48.5" textLength="29.3" lengthAdjust="spacingAndGlyphs" font-family='"Liberation Serif", "DejaVu Serif", serif' fill="#000" stroke="#000" stroke-width="0.4">Δ</text>
<text x="368.2" y="1325.5" font-size="45.0" textLength="31.2" lengthAdjust="spacingAndGlyphs" font-family='"Liberation Serif", "DejaVu Serif", serif' fill="#000" stroke="#000" stroke-width="0.4">≈</text>
<text x="412.4" y="1324.0" font-size="47.5" textLength="79.4" lengthAdjust="spacingAndGlyphs" font-family='"Liberation Serif", "DejaVu Serif", serif' fill="#000" stroke="#000" stroke-width="0.4">150</text>
<text x="504.5" y="1324.0" font-size="47.5" textLength="62.2" lengthAdjust="spacingAndGlyphs" font-family='"Liberation Serif", "DejaVu Serif", serif' fill="#000" stroke="#000" stroke-width="0.4">nm</text>
<text x="316.3" y="1676.2" font-size="48.5" textLength="29.3" lengthAdjust="spacingAndGlyphs" font-family='"Liberation Serif", "DejaVu Serif", serif' fill="#000" stroke="#000" stroke-width="0.4">Δ</text>
<text x="360.6" y="1677.7" font-size="45.0" textLength="31.2" lengthAdjust="spacingAndGlyphs" font-family='"Liberation Serif", "DejaVu Serif", serif' fill="#000" stroke="#000" stroke-width="0.4">≈</text>
<text x="404.8" y="1676.2" font-size="47.5" textLength="79.4" lengthAdjust="spacingAndGlyphs" font-family='"Liberation Serif", "DejaVu Serif", serif' fill="#000" stroke="#000" stroke-width="0.4">100</text>
<text x="496.5" y="1676.2" font-size="47.5" textLength="62.2" lengthAdjust="spacingAndGlyphs" font-family='"Liberation Serif", "DejaVu Serif", serif' fill="#000" stroke="#000" stroke-width="0.4">nm</text>
<text x="324.3" y="2034.0" font-size="48.5" textLength="29.3" lengthAdjust="spacingAndGlyphs" font-family='"Liberation Serif", "DejaVu Serif", serif' fill="#000" stroke="#000" stroke-width="0.4">Δ</text>
<text x="368.6" y="2035.5" font-size="45.0" textLength="31.2" lengthAdjust="spacingAndGlyphs" font-family='"Liberation Serif", "DejaVu Serif", serif' fill="#000" stroke="#000" stroke-width="0.4">≈</text>
<text x="415.5" y="2034.0" font-size="47.5" textLength="25.9" lengthAdjust="spacingAndGlyphs" font-family='"Liberation Serif", "DejaVu Serif", serif' fill="#000" stroke="#000" stroke-width="0.4">0</text>
<text x="452.5" y="2034.0" font-size="47.5" textLength="62.2" lengthAdjust="spacingAndGlyphs" font-family='"Liberation Serif", "DejaVu Serif", serif' fill="#000" stroke="#000" stroke-width="0.4">nm</text>
<clipPath id="cd"><rect x="976.0" y="918.0" width="601.5" height="584.8"/></clipPath>
<g clip-path="url(#cd)">
<path d="M1011,1434.8 L1057,1419.6 L1115,1399.6 L1168.5,1310 L1222,1168.8 L1277,968.4 L1332,1048 L1387.4,1202 L1446,1258.8 L1503,1332.8 L1561.4,1400.8" fill="none" stroke="#ff1f10" stroke-width="11" stroke-linejoin="round"/>
<circle cx="1011" cy="1434.8" r="17.3" fill="url(#gR)"/><circle cx="1057" cy="1419.6" r="17.3" fill="url(#gR)"/><circle cx="1115" cy="1399.6" r="17.3" fill="url(#gR)"/><circle cx="1168.5" cy="1310" r="17.3" fill="url(#gR)"/><circle cx="1222" cy="1168.8" r="17.3" fill="url(#gR)"/><circle cx="1277" cy="968.4" r="17.3" fill="url(#gR)"/><circle cx="1332" cy="1048" r="17.3" fill="url(#gR)"/><circle cx="1387.4" cy="1202" r="17.3" fill="url(#gR)"/><circle cx="1446" cy="1258.8" r="17.3" fill="url(#gR)"/><circle cx="1503" cy="1332.8" r="17.3" fill="url(#gR)"/><circle cx="1561.4" cy="1400.8" r="17.3" fill="url(#gR)"/>
<path d="M1011,1446.8 L1057,1431.6 L1115,1410 L1168.5,1382.8 L1222,1358.8 L1277,1340 L1332,1375.6 L1387.4,1376.8 L1446,1416.8 L1503,1423.6 L1561.4,1444.8" fill="none" stroke="#000000" stroke-width="11" stroke-linejoin="round"/>
<circle cx="1011" cy="1446.8" r="17.3" fill="url(#gK)"/><circle cx="1057" cy="1431.6" r="17.3" fill="url(#gK)"/><circle cx="1115" cy="1410" r="17.3" fill="url(#gK)"/><circle cx="1168.5" cy="1382.8" r="17.3" fill="url(#gK)"/><circle cx="1222" cy="1358.8" r="17.3" fill="url(#gK)"/><circle cx="1277" cy="1340" r="17.3" fill="url(#gK)"/><circle cx="1332" cy="1375.6" r="17.3" fill="url(#gK)"/><circle cx="1387.4" cy="1376.8" r="17.3" fill="url(#gK)"/><circle cx="1446" cy="1416.8" r="17.3" fill="url(#gK)"/><circle cx="1503" cy="1423.6" r="17.3" fill="url(#gK)"/><circle cx="1561.4" cy="1444.8" r="17.3" fill="url(#gK)"/>
<path d="M1011,1462.8 L1057,1462.8 L1115,1461.6 L1168.5,1461.6 L1222,1460.8 L1277,1459.6 L1332,1459.6 L1387.4,1458.8 L1446,1458 L1503,1456.8 L1561.4,1456.8" fill="none" stroke="#1a00ff" stroke-width="11" stroke-linejoin="round"/>
<circle cx="1011" cy="1462.8" r="17.3" fill="url(#gB)"/><circle cx="1057" cy="1462.8" r="17.3" fill="url(#gB)"/><circle cx="1115" cy="1461.6" r="17.3" fill="url(#gB)"/><circle cx="1168.5" cy="1461.6" r="17.3" fill="url(#gB)"/><circle cx="1222" cy="1460.8" r="17.3" fill="url(#gB)"/><circle cx="1277" cy="1459.6" r="17.3" fill="url(#gB)"/><circle cx="1332" cy="1459.6" r="17.3" fill="url(#gB)"/><circle cx="1387.4" cy="1458.8" r="17.3" fill="url(#gB)"/><circle cx="1446" cy="1458" r="17.3" fill="url(#gB)"/><circle cx="1503" cy="1456.8" r="17.3" fill="url(#gB)"/><circle cx="1561.4" cy="1456.8" r="17.3" fill="url(#gB)"/>
</g>
<rect x="976" y="918" width="601.5" height="584.8" fill="none" stroke="#000" stroke-width="1.8"/>
<line x1="976" y1="1463.4" x2="985" y2="1463.4" stroke="#000" stroke-width="1.6"/>
<line x1="976" y1="1385.2" x2="981" y2="1385.2" stroke="#000" stroke-width="1.6"/>
<line x1="976" y1="1307.1" x2="985" y2="1307.1" stroke="#000" stroke-width="1.6"/>
<line x1="976" y1="1228.9" x2="981" y2="1228.9" stroke="#000" stroke-width="1.6"/>
<line x1="976" y1="1150.7" x2="985" y2="1150.7" stroke="#000" stroke-width="1.6"/>
<line x1="976" y1="1072.6" x2="981" y2="1072.6" stroke="#000" stroke-width="1.6"/>
<line x1="976" y1="994.4" x2="985" y2="994.4" stroke="#000" stroke-width="1.6"/>
<line x1="1062" y1="1502.8" x2="1062" y2="1507.8" stroke="#000" stroke-width="1.6"/>
<line x1="1062" y1="918" x2="1062" y2="923" stroke="#000" stroke-width="1.6"/>
<line x1="1148" y1="1502.8" x2="1148" y2="1510.8" stroke="#000" stroke-width="1.6"/>
<line x1="1148" y1="918" x2="1148" y2="926" stroke="#000" stroke-width="1.6"/>
<line x1="1234" y1="1502.8" x2="1234" y2="1507.8" stroke="#000" stroke-width="1.6"/>
<line x1="1234" y1="918" x2="1234" y2="923" stroke="#000" stroke-width="1.6"/>
<line x1="1320" y1="1502.8" x2="1320" y2="1510.8" stroke="#000" stroke-width="1.6"/>
<line x1="1320" y1="918" x2="1320" y2="926" stroke="#000" stroke-width="1.6"/>
<line x1="1406" y1="1502.8" x2="1406" y2="1507.8" stroke="#000" stroke-width="1.6"/>
<line x1="1406" y1="918" x2="1406" y2="923" stroke="#000" stroke-width="1.6"/>
<line x1="1492" y1="1502.8" x2="1492" y2="1510.8" stroke="#000" stroke-width="1.6"/>
<line x1="1492" y1="918" x2="1492" y2="926" stroke="#000" stroke-width="1.6"/>
<line x1="1578" y1="1502.8" x2="1578" y2="1507.8" stroke="#000" stroke-width="1.6"/>
<line x1="976" y1="1502.8" x2="976" y2="1510.8" stroke="#000" stroke-width="1.6"/>
<text x="940.9" y="1477.7" font-size="45.5" textLength="24.7" lengthAdjust="spacingAndGlyphs" font-family='"Liberation Sans", Arial, sans-serif' fill="#000">0</text>
<text x="866.7" y="1321.4" font-size="45.5" textLength="99.0" lengthAdjust="spacingAndGlyphs" font-family='"Liberation Sans", Arial, sans-serif' fill="#000">1000</text>
<text x="866.7" y="1165.0" font-size="45.5" textLength="99.0" lengthAdjust="spacingAndGlyphs" font-family='"Liberation Sans", Arial, sans-serif' fill="#000">2000</text>
<text x="866.7" y="1008.7" font-size="45.5" textLength="99.0" lengthAdjust="spacingAndGlyphs" font-family='"Liberation Sans", Arial, sans-serif' fill="#000">3000</text>
<text x="937.8" y="1553.0" font-size="45.5" textLength="74.2" lengthAdjust="spacingAndGlyphs" font-family='"Liberation Sans", Arial, sans-serif' fill="#000">400</text>
<text x="1109.4" y="1553.0" font-size="45.5" textLength="74.2" lengthAdjust="spacingAndGlyphs" font-family='"Liberation Sans", Arial, sans-serif' fill="#000">420</text>
<text x="1281.0" y="1553.0" font-size="45.5" textLength="74.2" lengthAdjust="spacingAndGlyphs" font-family='"Liberation Sans", Arial, sans-serif' fill="#000">440</text>
<text x="1454.2" y="1553.0" font-size="45.5" textLength="74.2" lengthAdjust="spacingAndGlyphs" font-family='"Liberation Sans", Arial, sans-serif' fill="#000">460</text>
<text x="926.2" y="898.0" font-size="45.5" textLength="99.0" lengthAdjust="spacingAndGlyphs" font-family='"Liberation Sans", Arial, sans-serif' fill="#000">1200</text>
<text x="1098.1" y="898.0" font-size="45.5" textLength="99.0" lengthAdjust="spacingAndGlyphs" font-family='"Liberation Sans", Arial, sans-serif' fill="#000">1260</text>
<text x="1270.1" y="898.0" font-size="45.5" textLength="99.0" lengthAdjust="spacingAndGlyphs" font-family='"Liberation Sans", Arial, sans-serif' fill="#000">1320</text>
<text x="1441.3" y="898.0" font-size="45.5" textLength="99.0" lengthAdjust="spacingAndGlyphs" font-family='"Liberation Sans", Arial, sans-serif' fill="#000">1380</text>
<text x="1040.1" y="843.4" font-size="51.0" textLength="476.2" lengthAdjust="spacingAndGlyphs" font-family='"Liberation Sans", Arial, sans-serif' fill="#000">FF Wavelength (nm)</text>
<text x="981.1" y="1614.5" font-size="61.5" textLength="595.2" lengthAdjust="spacingAndGlyphs" font-family='"Liberation Sans", Arial, sans-serif' fill="#000">THG Wavelength (nm)</text>
<text transform="translate(852.3,1522.9) rotate(-90)" x="0" y="0" font-size="62.0" textLength="549.8" lengthAdjust="spacingAndGlyphs" font-family='"Liberation Sans", Arial, sans-serif'>Photon Counts (a.u.)</text>
<text x="806.6" y="811.6" font-size="42.5" textLength="52.9" lengthAdjust="spacingAndGlyphs" font-family='"Liberation Sans", Arial, sans-serif' fill="#000">(d)</text>
<line x1="1004.5" y1="955" x2="1045.5" y2="955" stroke="#ff1f10" stroke-width="5" stroke-linecap="round"/>
<circle cx="1024.4" cy="955" r="17.3" fill="url(#gR)"/>
<line x1="1004.5" y1="1000" x2="1045.5" y2="1000" stroke="#000000" stroke-width="5" stroke-linecap="round"/>
<circle cx="1024.4" cy="1000" r="17.3" fill="url(#gK)"/>
<line x1="1004.5" y1="1045" x2="1045.5" y2="1045" stroke="#1a00ff" stroke-width="5" stroke-linecap="round"/>
<circle cx="1024.4" cy="1045" r="17.3" fill="url(#gB)"/>
<text x="1055.1" y="967.0" font-size="35.5" textLength="112.5" lengthAdjust="spacingAndGlyphs" font-family='"Liberation Sans", Arial, sans-serif' fill="#000">2 layer</text>
<text x="1055.2" y="1012.0" font-size="35.5" textLength="112.4" lengthAdjust="spacingAndGlyphs" font-family='"Liberation Sans", Arial, sans-serif' fill="#000">1 layer</text>
<text x="1056.4" y="1057.0" font-size="35.5" textLength="128.0" lengthAdjust="spacingAndGlyphs" font-family='"Liberation Sans", Arial, sans-serif' fill="#000">thin film</text>
<clipPath id="ce"><rect x="966.0" y="1779.4" width="602.0" height="584.2999999999997"/></clipPath>
<g clip-path="url(#ce)">
<path d="M996,2310 L1094.5,2303 L1147,2304 L1192,2303 L1246,2299.8 L1285,2290.8 L1331,2296.8 L1373,2287.8 L1417,2274.8 L1458.5,2255 L1496.5,2270 L1545.5,2258" fill="none" stroke="#1a00ff" stroke-width="11" stroke-linejoin="round"/>
<circle cx="996" cy="2310" r="17.3" fill="url(#gB)"/><circle cx="1094.5" cy="2303" r="17.3" fill="url(#gB)"/><circle cx="1147" cy="2304" r="17.3" fill="url(#gB)"/><circle cx="1192" cy="2303" r="17.3" fill="url(#gB)"/><circle cx="1246" cy="2299.8" r="17.3" fill="url(#gB)"/><circle cx="1285" cy="2290.8" r="17.3" fill="url(#gB)"/><circle cx="1331" cy="2296.8" r="17.3" fill="url(#gB)"/><circle cx="1373" cy="2287.8" r="17.3" fill="url(#gB)"/><circle cx="1417" cy="2274.8" r="17.3" fill="url(#gB)"/><circle cx="1458.5" cy="2255" r="17.3" fill="url(#gB)"/><circle cx="1496.5" cy="2270" r="17.3" fill="url(#gB)"/><circle cx="1545.5" cy="2258" r="17.3" fill="url(#gB)"/>
<path d="M996,2308 L1094.5,2293 L1147,2282.8 L1192,2271.8 L1246,2255.8 L1285,2244 L1331,2250.4 L1373,2233.8 L1417,2221 L1458.5,2258.8 L1496.5,2276.8 L1545.5,2271" fill="none" stroke="#a9a9fd" stroke-width="11" stroke-linejoin="round"/>
<circle cx="996" cy="2308" r="17.3" fill="url(#gL)"/><circle cx="1094.5" cy="2293" r="17.3" fill="url(#gL)"/><circle cx="1147" cy="2282.8" r="17.3" fill="url(#gL)"/><circle cx="1192" cy="2271.8" r="17.3" fill="url(#gL)"/><circle cx="1246" cy="2255.8" r="17.3" fill="url(#gL)"/><circle cx="1285" cy="2244" r="17.3" fill="url(#gL)"/><circle cx="1331" cy="2250.4" r="17.3" fill="url(#gL)"/><circle cx="1373" cy="2233.8" r="17.3" fill="url(#gL)"/><circle cx="1417" cy="2221" r="17.3" fill="url(#gL)"/><circle cx="1458.5" cy="2258.8" r="17.3" fill="url(#gL)"/><circle cx="1496.5" cy="2276.8" r="17.3" fill="url(#gL)"/><circle cx="1545.5" cy="2271" r="17.3" fill="url(#gL)"/>
<path d="M996,2319.6 L1094.5,2308 L1147,2297.2 L1192,2291.8 L1246,2274.4 L1285,2253.8 L1331,2215.8 L1373,2185.8 L1417,2210.8 L1458.5,2205.8 L1496.5,2235.8 L1545.5,2270.4" fill="none" stroke="#f0a5a9" stroke-width="11" stroke-linejoin="round"/>
<circle cx="996" cy="2319.6" r="17.3" fill="url(#gP)"/><circle cx="1094.5" cy="2308" r="17.3" fill="url(#gP)"/><circle cx="1147" cy="2297.2" r="17.3" fill="url(#gP)"/><circle cx="1192" cy="2291.8" r="17.3" fill="url(#gP)"/><circle cx="1246" cy="2274.4" r="17.3" fill="url(#gP)"/><circle cx="1285" cy="2253.8" r="17.3" fill="url(#gP)"/><circle cx="1331" cy="2215.8" r="17.3" fill="url(#gP)"/><circle cx="1373" cy="2185.8" r="17.3" fill="url(#gP)"/><circle cx="1417" cy="2210.8" r="17.3" fill="url(#gP)"/><circle cx="1458.5" cy="2205.8" r="17.3" fill="url(#gP)"/><circle cx="1496.5" cy="2235.8" r="17.3" fill="url(#gP)"/><circle cx="1545.5" cy="2270.4" r="17.3" fill="url(#gP)"/>
<path d="M996,2185 L1094.5,2063.2 L1147,2022.6 L1192,1967.7 L1246,1933.9 L1285,1876.2 L1331,1839.6 L1373,1901.4 L1417,1953.4 L1458.5,2017.3 L1496.5,2092.5 L1545.5,2181" fill="none" stroke="#ff1f10" stroke-width="11" stroke-linejoin="round"/>
<circle cx="996" cy="2185" r="17.3" fill="url(#gR)"/><circle cx="1094.5" cy="2063.2" r="17.3" fill="url(#gR)"/><circle cx="1147" cy="2022.6" r="17.3" fill="url(#gR)"/><circle cx="1192" cy="1967.7" r="17.3" fill="url(#gR)"/><circle cx="1246" cy="1933.9" r="17.3" fill="url(#gR)"/><circle cx="1285" cy="1876.2" r="17.3" fill="url(#gR)"/><circle cx="1331" cy="1839.6" r="17.3" fill="url(#gR)"/><circle cx="1373" cy="1901.4" r="17.3" fill="url(#gR)"/><circle cx="1417" cy="1953.4" r="17.3" fill="url(#gR)"/><circle cx="1458.5" cy="2017.3" r="17.3" fill="url(#gR)"/><circle cx="1496.5" cy="2092.5" r="17.3" fill="url(#gR)"/><circle cx="1545.5" cy="2181" r="17.3" fill="url(#gR)"/>
</g>
<rect x="966" y="1779.4" width="602" height="584.3" fill="none" stroke="#000" stroke-width="1.8"/>
<line x1="966" y1="2347" x2="975" y2="2347" stroke="#000" stroke-width="1.6"/>
<line x1="966" y1="2259.6" x2="971" y2="2259.6" stroke="#000" stroke-width="1.6"/>
<line x1="966" y1="2172.1" x2="975" y2="2172.1" stroke="#000" stroke-width="1.6"/>
<line x1="966" y1="2084.7" x2="971" y2="2084.7" stroke="#000" stroke-width="1.6"/>
<line x1="966" y1="1997.2" x2="975" y2="1997.2" stroke="#000" stroke-width="1.6"/>
<line x1="966" y1="1909.8" x2="971" y2="1909.8" stroke="#000" stroke-width="1.6"/>
<line x1="966" y1="1822.3" x2="975" y2="1822.3" stroke="#000" stroke-width="1.6"/>
<line x1="994" y1="2363.7" x2="994" y2="2358.7" stroke="#000" stroke-width="1.6"/>
<line x1="994" y1="1779.4" x2="994" y2="1784.4" stroke="#000" stroke-width="1.6"/>
<line x1="1065.6" y1="2363.7" x2="1065.6" y2="2355.7" stroke="#000" stroke-width="1.6"/>
<line x1="1065.6" y1="1779.4" x2="1065.6" y2="1787.4" stroke="#000" stroke-width="1.6"/>
<line x1="1137.2" y1="2363.7" x2="1137.2" y2="2358.7" stroke="#000" stroke-width="1.6"/>
<line x1="1137.2" y1="1779.4" x2="1137.2" y2="1784.4" stroke="#000" stroke-width="1.6"/>
<line x1="1208.8" y1="2363.7" x2="1208.8" y2="2355.7" stroke="#000" stroke-width="1.6"/>
<line x1="1208.8" y1="1779.4" x2="1208.8" y2="1787.4" stroke="#000" stroke-width="1.6"/>
<line x1="1280.4" y1="2363.7" x2="1280.4" y2="2358.7" stroke="#000" stroke-width="1.6"/>
<line x1="1280.4" y1="1779.4" x2="1280.4" y2="1784.4" stroke="#000" stroke-width="1.6"/>
<line x1="1352" y1="2363.7" x2="1352" y2="2355.7" stroke="#000" stroke-width="1.6"/>
<line x1="1352" y1="1779.4" x2="1352" y2="1787.4" stroke="#000" stroke-width="1.6"/>
<line x1="1423.6" y1="2363.7" x2="1423.6" y2="2358.7" stroke="#000" stroke-width="1.6"/>
<line x1="1423.6" y1="1779.4" x2="1423.6" y2="1784.4" stroke="#000" stroke-width="1.6"/>
<line x1="1495.2" y1="2363.7" x2="1495.2" y2="2355.7" stroke="#000" stroke-width="1.6"/>
<line x1="1495.2" y1="1779.4" x2="1495.2" y2="1787.4" stroke="#000" stroke-width="1.6"/>
<text x="929.5" y="2361.3" font-size="45.5" textLength="24.7" lengthAdjust="spacingAndGlyphs" font-family='"Liberation Sans", Arial, sans-serif' fill="#000">0</text>
<text x="855.3" y="2186.4" font-size="45.5" textLength="99.0" lengthAdjust="spacingAndGlyphs" font-family='"Liberation Sans", Arial, sans-serif' fill="#000">1000</text>
<text x="855.3" y="2011.5" font-size="45.5" textLength="99.0" lengthAdjust="spacingAndGlyphs" font-family='"Liberation Sans", Arial, sans-serif' fill="#000">2000</text>
<text x="855.3" y="1836.6" font-size="45.5" textLength="99.0" lengthAdjust="spacingAndGlyphs" font-family='"Liberation Sans", Arial, sans-serif' fill="#000">3000</text>
<text x="1029.4" y="2409.0" font-size="45.5" textLength="74.2" lengthAdjust="spacingAndGlyphs" font-family='"Liberation Sans", Arial, sans-serif' fill="#000">355</text>
<text x="1172.5" y="2409.0" font-size="45.5" textLength="74.2" lengthAdjust="spacingAndGlyphs" font-family='"Liberation Sans", Arial, sans-serif' fill="#000">360</text>
<text x="1315.8" y="2409.0" font-size="45.5" textLength="74.2" lengthAdjust="spacingAndGlyphs" font-family='"Liberation Sans", Arial, sans-serif' fill="#000">365</text>
<text x="1458.9" y="2409.0" font-size="45.5" textLength="74.2" lengthAdjust="spacingAndGlyphs" font-family='"Liberation Sans", Arial, sans-serif' fill="#000">370</text>
<text x="1016.6" y="1758.6" font-size="45.5" textLength="99.0" lengthAdjust="spacingAndGlyphs" font-family='"Liberation Sans", Arial, sans-serif' fill="#000">1065</text>
<text x="1159.7" y="1758.6" font-size="45.5" textLength="99.0" lengthAdjust="spacingAndGlyphs" font-family='"Liberation Sans", Arial, sans-serif' fill="#000">1080</text>
<text x="1303.0" y="1758.6" font-size="45.5" textLength="99.0" lengthAdjust="spacingAndGlyphs" font-family='"Liberation Sans", Arial, sans-serif' fill="#000">1095</text>
<text x="1449.4" y="1758.6" font-size="45.5" textLength="92.4" lengthAdjust="spacingAndGlyphs" font-family='"Liberation Sans", Arial, sans-serif' fill="#000">1110</text>
<text x="1032.7" y="1709.2" font-size="49.5" textLength="477.2" lengthAdjust="spacingAndGlyphs" font-family='"Liberation Sans", Arial, sans-serif' fill="#000">FF Wavelength (nm)</text>
<text x="976.7" y="2481.5" font-size="61.5" textLength="595.2" lengthAdjust="spacingAndGlyphs" font-family='"Liberation Sans", Arial, sans-serif' fill="#000">THG Wavelength (nm)</text>
<text transform="translate(836.1,2345.7) rotate(-90)" x="0" y="0" font-size="62.0" textLength="549.5" lengthAdjust="spacingAndGlyphs" font-family='"Liberation Sans", Arial, sans-serif'>Photon Counts (a.u.)</text>
<text x="805.4" y="1732.5" font-size="42.5" textLength="54.9" lengthAdjust="spacingAndGlyphs" font-family='"Liberation Sans", Arial, sans-serif' fill="#000">(e)</text>
<line x1="1003.0" y1="1816.3" x2="1043.7" y2="1816.3" stroke="#1a00ff" stroke-width="5" stroke-linecap="round"/>
<circle cx="1023.3" cy="1816.3" r="17.3" fill="url(#gB)"/>
<line x1="1003.0" y1="1861.2" x2="1043.7" y2="1861.2" stroke="#a9a9fd" stroke-width="5" stroke-linecap="round"/>
<circle cx="1023.3" cy="1861.2" r="17.3" fill="url(#gL)"/>
<line x1="1003.0" y1="1906.4" x2="1043.7" y2="1906.4" stroke="#f0a5a9" stroke-width="5" stroke-linecap="round"/>
<circle cx="1023.3" cy="1906.4" r="17.3" fill="url(#gP)"/>
<line x1="1003.0" y1="1951.5" x2="1043.7" y2="1951.5" stroke="#ff1f10" stroke-width="5" stroke-linecap="round"/>
<circle cx="1023.3" cy="1951.5" r="17.3" fill="url(#gR)"/>
<text x="1074.2" y="1828.4" font-size="35.5" textLength="20.4" lengthAdjust="spacingAndGlyphs" font-family='"Liberation Sans", Arial, sans-serif' fill="#000">0</text>
<text x="1072.8" y="1874.1" font-size="35.5" textLength="63.5" lengthAdjust="spacingAndGlyphs" font-family='"Liberation Sans", Arial, sans-serif' fill="#000">100</text>
<text x="1072.8" y="1919.2" font-size="35.5" textLength="63.5" lengthAdjust="spacingAndGlyphs" font-family='"Liberation Sans", Arial, sans-serif' fill="#000">150</text>
<text x="1073.8" y="1964.1" font-size="35.5" textLength="62.5" lengthAdjust="spacingAndGlyphs" font-family='"Liberation Sans", Arial, sans-serif' fill="#000">250</text></svg></body></html>
